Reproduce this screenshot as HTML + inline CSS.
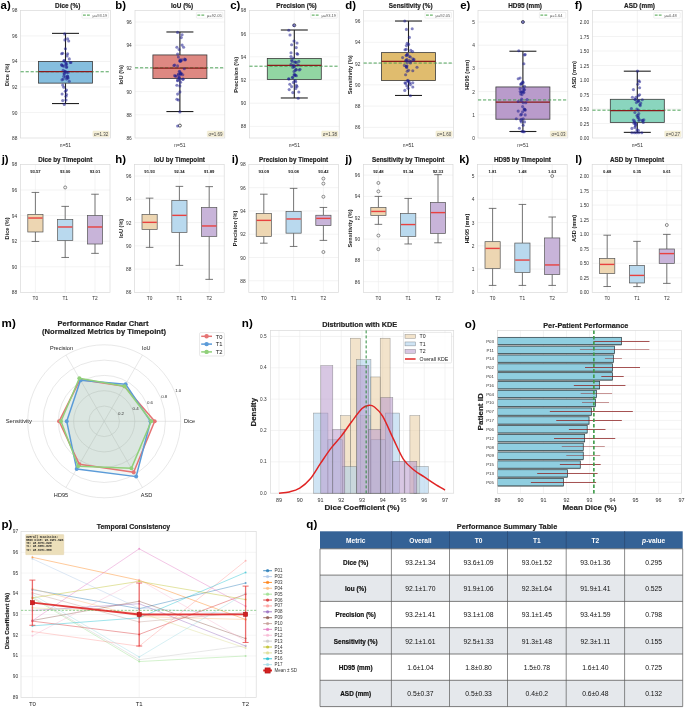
<!DOCTYPE html>
<html><head><meta charset="utf-8"><title>Figure</title>
<style>
html,body{margin:0;padding:0;background:#fff;}
body{width:685px;height:708px;overflow:hidden;}
svg{display:block;font-family:"Liberation Sans", sans-serif;will-change:transform;}
</style></head><body>
<svg width="685" height="708" viewBox="0 0 685 708">
<rect x="0" y="0" width="685" height="708" fill="#fff"/>
<line x1="20.6" y1="112.48" x2="110.4" y2="112.48" stroke="#ebebeb" stroke-width="0.6"/>
<line x1="20.6" y1="86.96" x2="110.4" y2="86.96" stroke="#ebebeb" stroke-width="0.6"/>
<line x1="20.6" y1="61.44" x2="110.4" y2="61.44" stroke="#ebebeb" stroke-width="0.6"/>
<line x1="20.6" y1="35.92" x2="110.4" y2="35.92" stroke="#ebebeb" stroke-width="0.6"/>
<line x1="65.5" y1="10.4" x2="65.5" y2="138" stroke="#ebebeb" stroke-width="0.6"/>
<rect x="20.6" y="10.4" width="89.8" height="127.6" fill="none" stroke="#d9d9d9" stroke-width="0.7"/>
<text x="17.4" y="138.55" font-size="4.8" text-anchor="end" dominant-baseline="central" fill="#333">88</text>
<text x="17.4" y="113.03" font-size="4.8" text-anchor="end" dominant-baseline="central" fill="#333">90</text>
<text x="17.4" y="87.51" font-size="4.8" text-anchor="end" dominant-baseline="central" fill="#333">92</text>
<text x="17.4" y="61.99" font-size="4.8" text-anchor="end" dominant-baseline="central" fill="#333">94</text>
<text x="17.4" y="36.47" font-size="4.8" text-anchor="end" dominant-baseline="central" fill="#333">96</text>
<text x="17.4" y="10.95" font-size="4.8" text-anchor="end" dominant-baseline="central" fill="#333">98</text>
<line x1="65.5" y1="33.37" x2="65.5" y2="61.44" stroke="#222" stroke-width="1.1"/>
<line x1="65.5" y1="83.13" x2="65.5" y2="103.55" stroke="#222" stroke-width="1.1"/>
<rect x="38.5" y="61.44" width="54" height="21.69" fill="#85bede" stroke="#3a3a3a" stroke-width="0.8"/>
<line x1="52" y1="33.37" x2="79" y2="33.37" stroke="#222" stroke-width="1.1"/>
<line x1="52" y1="103.55" x2="79" y2="103.55" stroke="#222" stroke-width="1.1"/>
<line x1="20.6" y1="71.78" x2="110.4" y2="71.78" stroke="#3c9a48" stroke-width="0.9" stroke-dasharray="3.2,1.8"/>
<line x1="38.5" y1="71.65" x2="92.5" y2="71.65" stroke="#8b1a1a" stroke-width="1.3"/>
<circle cx="64.7" cy="33.9" r="1.55" fill="#1f1f8f" stroke="none" stroke-width="0" fill-opacity="0.55"/>
<circle cx="64.9" cy="39.9" r="1.55" fill="#1f1f8f" stroke="none" stroke-width="0" fill-opacity="0.55"/>
<circle cx="67.6" cy="38.8" r="1.55" fill="#1f1f8f" stroke="none" stroke-width="0" fill-opacity="0.55"/>
<circle cx="68.7" cy="41" r="1.55" fill="#1f1f8f" stroke="none" stroke-width="0" fill-opacity="0.55"/>
<circle cx="65.4" cy="48.7" r="1.55" fill="#1f1f8f" stroke="none" stroke-width="0" fill-opacity="0.55"/>
<circle cx="61.6" cy="53.7" r="1.55" fill="#1f1f8f" stroke="none" stroke-width="0" fill-opacity="0.55"/>
<circle cx="62.7" cy="53.2" r="1.55" fill="#1f1f8f" stroke="none" stroke-width="0" fill-opacity="0.55"/>
<circle cx="67.6" cy="53.7" r="1.55" fill="#1f1f8f" stroke="none" stroke-width="0" fill-opacity="0.55"/>
<circle cx="67.1" cy="55.9" r="1.55" fill="#1f1f8f" stroke="none" stroke-width="0" fill-opacity="0.55"/>
<circle cx="69.3" cy="58.9" r="1.55" fill="#1f1f8f" stroke="none" stroke-width="0" fill-opacity="0.55"/>
<circle cx="63.8" cy="60.9" r="1.55" fill="#1f1f8f" stroke="none" stroke-width="0" fill-opacity="0.55"/>
<circle cx="65.4" cy="62" r="1.55" fill="#1f1f8f" stroke="none" stroke-width="0" fill-opacity="0.55"/>
<circle cx="66.3" cy="63.1" r="1.55" fill="#1f1f8f" stroke="none" stroke-width="0" fill-opacity="0.55"/>
<circle cx="70.9" cy="62.5" r="1.55" fill="#1f1f8f" stroke="none" stroke-width="0" fill-opacity="0.55"/>
<circle cx="61.6" cy="65.1" r="1.55" fill="#1f1f8f" stroke="none" stroke-width="0" fill-opacity="0.55"/>
<circle cx="62.7" cy="65.8" r="1.55" fill="#1f1f8f" stroke="none" stroke-width="0" fill-opacity="0.55"/>
<circle cx="66.5" cy="67.5" r="1.55" fill="#1f1f8f" stroke="none" stroke-width="0" fill-opacity="0.55"/>
<circle cx="66" cy="64.2" r="1.55" fill="#1f1f8f" stroke="none" stroke-width="0" fill-opacity="0.55"/>
<circle cx="63.2" cy="70.2" r="1.55" fill="#1f1f8f" stroke="none" stroke-width="0" fill-opacity="0.55"/>
<circle cx="64.9" cy="71.3" r="1.55" fill="#1f1f8f" stroke="none" stroke-width="0" fill-opacity="0.55"/>
<circle cx="66.5" cy="72.4" r="1.55" fill="#1f1f8f" stroke="none" stroke-width="0" fill-opacity="0.55"/>
<circle cx="68.2" cy="72.4" r="1.55" fill="#1f1f8f" stroke="none" stroke-width="0" fill-opacity="0.55"/>
<circle cx="64.3" cy="73.5" r="1.55" fill="#1f1f8f" stroke="none" stroke-width="0" fill-opacity="0.55"/>
<circle cx="63.8" cy="76.3" r="1.55" fill="#1f1f8f" stroke="none" stroke-width="0" fill-opacity="0.55"/>
<circle cx="65.4" cy="76.9" r="1.55" fill="#1f1f8f" stroke="none" stroke-width="0" fill-opacity="0.55"/>
<circle cx="67.6" cy="76.3" r="1.55" fill="#1f1f8f" stroke="none" stroke-width="0" fill-opacity="0.55"/>
<circle cx="68.2" cy="78" r="1.55" fill="#1f1f8f" stroke="none" stroke-width="0" fill-opacity="0.55"/>
<circle cx="63.2" cy="79.1" r="1.55" fill="#1f1f8f" stroke="none" stroke-width="0" fill-opacity="0.55"/>
<circle cx="66.5" cy="79.1" r="1.55" fill="#1f1f8f" stroke="none" stroke-width="0" fill-opacity="0.55"/>
<circle cx="69.3" cy="81.3" r="1.55" fill="#1f1f8f" stroke="none" stroke-width="0" fill-opacity="0.55"/>
<circle cx="62.7" cy="85.1" r="1.55" fill="#1f1f8f" stroke="none" stroke-width="0" fill-opacity="0.55"/>
<circle cx="63.8" cy="87.3" r="1.55" fill="#1f1f8f" stroke="none" stroke-width="0" fill-opacity="0.55"/>
<circle cx="66.5" cy="90.1" r="1.55" fill="#1f1f8f" stroke="none" stroke-width="0" fill-opacity="0.55"/>
<circle cx="65.4" cy="91.2" r="1.55" fill="#1f1f8f" stroke="none" stroke-width="0" fill-opacity="0.55"/>
<circle cx="62.1" cy="94" r="1.55" fill="#1f1f8f" stroke="none" stroke-width="0" fill-opacity="0.55"/>
<circle cx="66.5" cy="94.5" r="1.55" fill="#1f1f8f" stroke="none" stroke-width="0" fill-opacity="0.55"/>
<circle cx="66" cy="96.2" r="1.55" fill="#1f1f8f" stroke="none" stroke-width="0" fill-opacity="0.55"/>
<circle cx="62.7" cy="100.6" r="1.55" fill="#1f1f8f" stroke="none" stroke-width="0" fill-opacity="0.55"/>
<circle cx="66" cy="100" r="1.55" fill="#1f1f8f" stroke="none" stroke-width="0" fill-opacity="0.55"/>
<circle cx="64.3" cy="104.4" r="1.55" fill="#1f1f8f" stroke="none" stroke-width="0" fill-opacity="0.55"/>
<circle cx="66.17" cy="64.8" r="1.55" fill="#1f1f8f" stroke="none" stroke-width="0" fill-opacity="0.55"/>
<circle cx="70.31" cy="62.49" r="1.55" fill="#1f1f8f" stroke="none" stroke-width="0" fill-opacity="0.55"/>
<circle cx="67.53" cy="76.06" r="1.55" fill="#1f1f8f" stroke="none" stroke-width="0" fill-opacity="0.55"/>
<circle cx="61.73" cy="64.86" r="1.55" fill="#1f1f8f" stroke="none" stroke-width="0" fill-opacity="0.55"/>
<circle cx="64.14" cy="74.02" r="1.55" fill="#1f1f8f" stroke="none" stroke-width="0" fill-opacity="0.55"/>
<circle cx="64.27" cy="60.43" r="1.55" fill="#1f1f8f" stroke="none" stroke-width="0" fill-opacity="0.55"/>
<circle cx="66.72" cy="66.7" r="1.55" fill="#1f1f8f" stroke="none" stroke-width="0" fill-opacity="0.55"/>
<circle cx="65.37" cy="71.45" r="1.55" fill="#1f1f8f" stroke="none" stroke-width="0" fill-opacity="0.55"/>
<circle cx="62.02" cy="79.86" r="1.55" fill="#1f1f8f" stroke="none" stroke-width="0" fill-opacity="0.55"/>
<circle cx="63.83" cy="66.25" r="1.55" fill="#1f1f8f" stroke="none" stroke-width="0" fill-opacity="0.55"/>
<circle cx="67.53" cy="77.88" r="1.55" fill="#1f1f8f" stroke="none" stroke-width="0" fill-opacity="0.55"/>
<rect x="82" y="12.3" width="26.4" height="5.9" fill="#fff" stroke="#d8d8d8" stroke-width="0.4" rx="0.8"/>
<line x1="83" y1="15.2" x2="90" y2="15.2" stroke="#6db56d" stroke-width="1.3" stroke-dasharray="2.8,1.2"/>
<text x="92.6" y="15.3" font-size="4" text-anchor="start" dominant-baseline="central" fill="#555">μ=93.19</text>
<rect x="92.9" y="131" width="16.3" height="5.8" fill="#f6f0d8" stroke="#ebe3c6" stroke-width="0.4" rx="0.8"/>
<text x="101.1" y="134.1" font-size="4.5" text-anchor="middle" dominant-baseline="central" fill="#444">σ=1.32</text>
<text x="67.7" y="5" font-size="6.4" text-anchor="middle" dominant-baseline="central" fill="#222" font-weight="bold" stroke="#222" stroke-width="0.18">Dice (%)</text>
<text x="7" y="74.8" font-size="5.7" text-anchor="middle" dominant-baseline="central" fill="#222" font-weight="bold" transform="rotate(-90 7 74.8)">Dice (%)</text>
<text x="65.5" y="144.6" font-size="5" text-anchor="middle" dominant-baseline="central" fill="#333">n=51</text>
<text x="0.6" y="8.9" font-size="11.4" font-weight="bold" fill="#000">a)</text>
<line x1="135" y1="114.8" x2="224.8" y2="114.8" stroke="#ebebeb" stroke-width="0.6"/>
<line x1="135" y1="91.6" x2="224.8" y2="91.6" stroke="#ebebeb" stroke-width="0.6"/>
<line x1="135" y1="68.4" x2="224.8" y2="68.4" stroke="#ebebeb" stroke-width="0.6"/>
<line x1="135" y1="45.2" x2="224.8" y2="45.2" stroke="#ebebeb" stroke-width="0.6"/>
<line x1="135" y1="22" x2="224.8" y2="22" stroke="#ebebeb" stroke-width="0.6"/>
<line x1="179.9" y1="10.4" x2="179.9" y2="138" stroke="#ebebeb" stroke-width="0.6"/>
<rect x="135" y="10.4" width="89.8" height="127.6" fill="none" stroke="#d9d9d9" stroke-width="0.7"/>
<text x="131.8" y="138.55" font-size="4.8" text-anchor="end" dominant-baseline="central" fill="#333">86</text>
<text x="131.8" y="115.35" font-size="4.8" text-anchor="end" dominant-baseline="central" fill="#333">88</text>
<text x="131.8" y="92.15" font-size="4.8" text-anchor="end" dominant-baseline="central" fill="#333">90</text>
<text x="131.8" y="68.95" font-size="4.8" text-anchor="end" dominant-baseline="central" fill="#333">92</text>
<text x="131.8" y="45.75" font-size="4.8" text-anchor="end" dominant-baseline="central" fill="#333">94</text>
<text x="131.8" y="22.55" font-size="4.8" text-anchor="end" dominant-baseline="central" fill="#333">96</text>
<line x1="179.9" y1="31.98" x2="179.9" y2="54.94" stroke="#222" stroke-width="1.1"/>
<line x1="179.9" y1="78.61" x2="179.9" y2="111.55" stroke="#222" stroke-width="1.1"/>
<rect x="152.9" y="54.94" width="54" height="23.66" fill="#de8882" stroke="#3a3a3a" stroke-width="0.8"/>
<line x1="166.4" y1="31.98" x2="193.4" y2="31.98" stroke="#222" stroke-width="1.1"/>
<line x1="166.4" y1="111.55" x2="193.4" y2="111.55" stroke="#222" stroke-width="1.1"/>
<line x1="135" y1="67.82" x2="224.8" y2="67.82" stroke="#3c9a48" stroke-width="0.9" stroke-dasharray="3.2,1.8"/>
<line x1="152.9" y1="68.17" x2="206.9" y2="68.17" stroke="#8b1a1a" stroke-width="1.3"/>
<circle cx="179.9" cy="125.59" r="1.5" fill="none" stroke="#222" stroke-width="0.7"/>
<circle cx="177.6" cy="32.4" r="1.55" fill="#1f1f8f" stroke="none" stroke-width="0" fill-opacity="0.55"/>
<circle cx="182.1" cy="34.7" r="1.55" fill="#1f1f8f" stroke="none" stroke-width="0" fill-opacity="0.55"/>
<circle cx="181.3" cy="37.6" r="1.55" fill="#1f1f8f" stroke="none" stroke-width="0" fill-opacity="0.55"/>
<circle cx="176.9" cy="47.3" r="1.55" fill="#1f1f8f" stroke="none" stroke-width="0" fill-opacity="0.55"/>
<circle cx="182.1" cy="45.1" r="1.55" fill="#1f1f8f" stroke="none" stroke-width="0" fill-opacity="0.55"/>
<circle cx="183.6" cy="47.3" r="1.55" fill="#1f1f8f" stroke="none" stroke-width="0" fill-opacity="0.55"/>
<circle cx="179.1" cy="49.5" r="1.55" fill="#1f1f8f" stroke="none" stroke-width="0" fill-opacity="0.55"/>
<circle cx="177.6" cy="54" r="1.55" fill="#1f1f8f" stroke="none" stroke-width="0" fill-opacity="0.55"/>
<circle cx="178.4" cy="57" r="1.55" fill="#1f1f8f" stroke="none" stroke-width="0" fill-opacity="0.55"/>
<circle cx="179.9" cy="60.7" r="1.55" fill="#1f1f8f" stroke="none" stroke-width="0" fill-opacity="0.55"/>
<circle cx="182.1" cy="59.9" r="1.55" fill="#1f1f8f" stroke="none" stroke-width="0" fill-opacity="0.55"/>
<circle cx="185.1" cy="59.9" r="1.55" fill="#1f1f8f" stroke="none" stroke-width="0" fill-opacity="0.55"/>
<circle cx="174.7" cy="65.1" r="1.55" fill="#1f1f8f" stroke="none" stroke-width="0" fill-opacity="0.55"/>
<circle cx="177.6" cy="65.9" r="1.55" fill="#1f1f8f" stroke="none" stroke-width="0" fill-opacity="0.55"/>
<circle cx="184.3" cy="68.8" r="1.55" fill="#1f1f8f" stroke="none" stroke-width="0" fill-opacity="0.55"/>
<circle cx="179.9" cy="71.8" r="1.55" fill="#1f1f8f" stroke="none" stroke-width="0" fill-opacity="0.55"/>
<circle cx="181.3" cy="73.3" r="1.55" fill="#1f1f8f" stroke="none" stroke-width="0" fill-opacity="0.55"/>
<circle cx="178.4" cy="74.8" r="1.55" fill="#1f1f8f" stroke="none" stroke-width="0" fill-opacity="0.55"/>
<circle cx="182.8" cy="74.8" r="1.55" fill="#1f1f8f" stroke="none" stroke-width="0" fill-opacity="0.55"/>
<circle cx="175.4" cy="76.3" r="1.55" fill="#1f1f8f" stroke="none" stroke-width="0" fill-opacity="0.55"/>
<circle cx="179.1" cy="77" r="1.55" fill="#1f1f8f" stroke="none" stroke-width="0" fill-opacity="0.55"/>
<circle cx="179.9" cy="79.2" r="1.55" fill="#1f1f8f" stroke="none" stroke-width="0" fill-opacity="0.55"/>
<circle cx="182.8" cy="79.2" r="1.55" fill="#1f1f8f" stroke="none" stroke-width="0" fill-opacity="0.55"/>
<circle cx="177.6" cy="80.7" r="1.55" fill="#1f1f8f" stroke="none" stroke-width="0" fill-opacity="0.55"/>
<circle cx="180.6" cy="82.2" r="1.55" fill="#1f1f8f" stroke="none" stroke-width="0" fill-opacity="0.55"/>
<circle cx="176.9" cy="85.2" r="1.55" fill="#1f1f8f" stroke="none" stroke-width="0" fill-opacity="0.55"/>
<circle cx="179.9" cy="85.9" r="1.55" fill="#1f1f8f" stroke="none" stroke-width="0" fill-opacity="0.55"/>
<circle cx="179.9" cy="91.9" r="1.55" fill="#1f1f8f" stroke="none" stroke-width="0" fill-opacity="0.55"/>
<circle cx="177.6" cy="94.1" r="1.55" fill="#1f1f8f" stroke="none" stroke-width="0" fill-opacity="0.55"/>
<circle cx="176.9" cy="99.3" r="1.55" fill="#1f1f8f" stroke="none" stroke-width="0" fill-opacity="0.55"/>
<circle cx="178.4" cy="100" r="1.55" fill="#1f1f8f" stroke="none" stroke-width="0" fill-opacity="0.55"/>
<circle cx="179.9" cy="111.9" r="1.55" fill="#1f1f8f" stroke="none" stroke-width="0" fill-opacity="0.55"/>
<circle cx="177.6" cy="126" r="1.55" fill="#1f1f8f" stroke="none" stroke-width="0" fill-opacity="0.55"/>
<circle cx="180.18" cy="61.21" r="1.55" fill="#1f1f8f" stroke="none" stroke-width="0" fill-opacity="0.55"/>
<circle cx="179.35" cy="71.31" r="1.55" fill="#1f1f8f" stroke="none" stroke-width="0" fill-opacity="0.55"/>
<circle cx="185.48" cy="59.51" r="1.55" fill="#1f1f8f" stroke="none" stroke-width="0" fill-opacity="0.55"/>
<circle cx="178.85" cy="77.82" r="1.55" fill="#1f1f8f" stroke="none" stroke-width="0" fill-opacity="0.55"/>
<circle cx="180.64" cy="74.1" r="1.55" fill="#1f1f8f" stroke="none" stroke-width="0" fill-opacity="0.55"/>
<circle cx="176.14" cy="76.02" r="1.55" fill="#1f1f8f" stroke="none" stroke-width="0" fill-opacity="0.55"/>
<circle cx="173.89" cy="65.43" r="1.55" fill="#1f1f8f" stroke="none" stroke-width="0" fill-opacity="0.55"/>
<circle cx="180.5" cy="73.6" r="1.55" fill="#1f1f8f" stroke="none" stroke-width="0" fill-opacity="0.55"/>
<circle cx="180.13" cy="59.76" r="1.55" fill="#1f1f8f" stroke="none" stroke-width="0" fill-opacity="0.55"/>
<circle cx="180.59" cy="74.26" r="1.55" fill="#1f1f8f" stroke="none" stroke-width="0" fill-opacity="0.55"/>
<circle cx="179.3" cy="77.87" r="1.55" fill="#1f1f8f" stroke="none" stroke-width="0" fill-opacity="0.55"/>
<circle cx="180.79" cy="61.07" r="1.55" fill="#1f1f8f" stroke="none" stroke-width="0" fill-opacity="0.55"/>
<circle cx="180.09" cy="60.97" r="1.55" fill="#1f1f8f" stroke="none" stroke-width="0" fill-opacity="0.55"/>
<circle cx="174.63" cy="75.49" r="1.55" fill="#1f1f8f" stroke="none" stroke-width="0" fill-opacity="0.55"/>
<circle cx="177.63" cy="80.09" r="1.55" fill="#1f1f8f" stroke="none" stroke-width="0" fill-opacity="0.55"/>
<circle cx="183.1" cy="79.17" r="1.55" fill="#1f1f8f" stroke="none" stroke-width="0" fill-opacity="0.55"/>
<circle cx="178.4" cy="74" r="1.55" fill="#1f1f8f" stroke="none" stroke-width="0" fill-opacity="0.55"/>
<circle cx="184.57" cy="59.14" r="1.55" fill="#1f1f8f" stroke="none" stroke-width="0" fill-opacity="0.55"/>
<rect x="196.4" y="12.3" width="26.4" height="5.9" fill="#fff" stroke="#d8d8d8" stroke-width="0.4" rx="0.8"/>
<line x1="197.4" y1="15.2" x2="204.4" y2="15.2" stroke="#6db56d" stroke-width="1.3" stroke-dasharray="2.8,1.2"/>
<text x="207" y="15.3" font-size="4" text-anchor="start" dominant-baseline="central" fill="#555">μ=92.05</text>
<rect x="207.3" y="131" width="16.3" height="5.8" fill="#f6f0d8" stroke="#ebe3c6" stroke-width="0.4" rx="0.8"/>
<text x="215.5" y="134.1" font-size="4.5" text-anchor="middle" dominant-baseline="central" fill="#444">σ=1.69</text>
<text x="182.1" y="5" font-size="6.4" text-anchor="middle" dominant-baseline="central" fill="#222" font-weight="bold" stroke="#222" stroke-width="0.18">IoU (%)</text>
<text x="121.4" y="74.8" font-size="5.7" text-anchor="middle" dominant-baseline="central" fill="#222" font-weight="bold" transform="rotate(-90 121.4 74.8)">IoU (%)</text>
<text x="179.9" y="144.6" font-size="5" text-anchor="middle" dominant-baseline="central" fill="#333">n=51</text>
<text x="115.2" y="8.9" font-size="11.4" font-weight="bold" fill="#000">b)</text>
<line x1="249.4" y1="126.4" x2="339.2" y2="126.4" stroke="#ebebeb" stroke-width="0.6"/>
<line x1="249.4" y1="103.2" x2="339.2" y2="103.2" stroke="#ebebeb" stroke-width="0.6"/>
<line x1="249.4" y1="80" x2="339.2" y2="80" stroke="#ebebeb" stroke-width="0.6"/>
<line x1="249.4" y1="56.8" x2="339.2" y2="56.8" stroke="#ebebeb" stroke-width="0.6"/>
<line x1="249.4" y1="33.6" x2="339.2" y2="33.6" stroke="#ebebeb" stroke-width="0.6"/>
<line x1="294.3" y1="10.4" x2="294.3" y2="138" stroke="#ebebeb" stroke-width="0.6"/>
<rect x="249.4" y="10.4" width="89.8" height="127.6" fill="none" stroke="#d9d9d9" stroke-width="0.7"/>
<text x="246.2" y="126.95" font-size="4.8" text-anchor="end" dominant-baseline="central" fill="#333">88</text>
<text x="246.2" y="103.75" font-size="4.8" text-anchor="end" dominant-baseline="central" fill="#333">90</text>
<text x="246.2" y="80.55" font-size="4.8" text-anchor="end" dominant-baseline="central" fill="#333">92</text>
<text x="246.2" y="57.35" font-size="4.8" text-anchor="end" dominant-baseline="central" fill="#333">94</text>
<text x="246.2" y="34.15" font-size="4.8" text-anchor="end" dominant-baseline="central" fill="#333">96</text>
<text x="246.2" y="10.95" font-size="4.8" text-anchor="end" dominant-baseline="central" fill="#333">98</text>
<line x1="294.3" y1="30" x2="294.3" y2="58.42" stroke="#222" stroke-width="1.1"/>
<line x1="294.3" y1="79.42" x2="294.3" y2="97.98" stroke="#222" stroke-width="1.1"/>
<rect x="267.3" y="58.42" width="54" height="21" fill="#92d5a3" stroke="#3a3a3a" stroke-width="0.8"/>
<line x1="280.8" y1="30" x2="307.8" y2="30" stroke="#222" stroke-width="1.1"/>
<line x1="280.8" y1="97.98" x2="307.8" y2="97.98" stroke="#222" stroke-width="1.1"/>
<line x1="249.4" y1="66.2" x2="339.2" y2="66.2" stroke="#3c9a48" stroke-width="0.9" stroke-dasharray="3.2,1.8"/>
<line x1="267.3" y1="65.38" x2="321.3" y2="65.38" stroke="#8b1a1a" stroke-width="1.3"/>
<circle cx="294.3" cy="25.25" r="1.5" fill="none" stroke="#222" stroke-width="0.7"/>
<circle cx="294" cy="25.4" r="1.55" fill="#1f1f8f" stroke="none" stroke-width="0" fill-opacity="0.55"/>
<circle cx="288.8" cy="30.2" r="1.55" fill="#1f1f8f" stroke="none" stroke-width="0" fill-opacity="0.55"/>
<circle cx="290" cy="35" r="1.55" fill="#1f1f8f" stroke="none" stroke-width="0" fill-opacity="0.55"/>
<circle cx="294" cy="41" r="1.55" fill="#1f1f8f" stroke="none" stroke-width="0" fill-opacity="0.55"/>
<circle cx="297" cy="43" r="1.55" fill="#1f1f8f" stroke="none" stroke-width="0" fill-opacity="0.55"/>
<circle cx="291.6" cy="44.8" r="1.55" fill="#1f1f8f" stroke="none" stroke-width="0" fill-opacity="0.55"/>
<circle cx="296.2" cy="47.6" r="1.55" fill="#1f1f8f" stroke="none" stroke-width="0" fill-opacity="0.55"/>
<circle cx="291" cy="52.7" r="1.55" fill="#1f1f8f" stroke="none" stroke-width="0" fill-opacity="0.55"/>
<circle cx="297" cy="53.6" r="1.55" fill="#1f1f8f" stroke="none" stroke-width="0" fill-opacity="0.55"/>
<circle cx="297.6" cy="54.2" r="1.55" fill="#1f1f8f" stroke="none" stroke-width="0" fill-opacity="0.55"/>
<circle cx="291" cy="56.6" r="1.55" fill="#1f1f8f" stroke="none" stroke-width="0" fill-opacity="0.55"/>
<circle cx="293.4" cy="58.2" r="1.55" fill="#1f1f8f" stroke="none" stroke-width="0" fill-opacity="0.55"/>
<circle cx="291.6" cy="60.2" r="1.55" fill="#1f1f8f" stroke="none" stroke-width="0" fill-opacity="0.55"/>
<circle cx="292.2" cy="61.4" r="1.55" fill="#1f1f8f" stroke="none" stroke-width="0" fill-opacity="0.55"/>
<circle cx="294.6" cy="62" r="1.55" fill="#1f1f8f" stroke="none" stroke-width="0" fill-opacity="0.55"/>
<circle cx="296.4" cy="62.6" r="1.55" fill="#1f1f8f" stroke="none" stroke-width="0" fill-opacity="0.55"/>
<circle cx="298.8" cy="61.4" r="1.55" fill="#1f1f8f" stroke="none" stroke-width="0" fill-opacity="0.55"/>
<circle cx="291" cy="64.4" r="1.55" fill="#1f1f8f" stroke="none" stroke-width="0" fill-opacity="0.55"/>
<circle cx="293.4" cy="65" r="1.55" fill="#1f1f8f" stroke="none" stroke-width="0" fill-opacity="0.55"/>
<circle cx="298.2" cy="65" r="1.55" fill="#1f1f8f" stroke="none" stroke-width="0" fill-opacity="0.55"/>
<circle cx="294" cy="66.8" r="1.55" fill="#1f1f8f" stroke="none" stroke-width="0" fill-opacity="0.55"/>
<circle cx="292.8" cy="67.4" r="1.55" fill="#1f1f8f" stroke="none" stroke-width="0" fill-opacity="0.55"/>
<circle cx="300" cy="69.2" r="1.55" fill="#1f1f8f" stroke="none" stroke-width="0" fill-opacity="0.55"/>
<circle cx="295.8" cy="69.2" r="1.55" fill="#1f1f8f" stroke="none" stroke-width="0" fill-opacity="0.55"/>
<circle cx="294" cy="71.6" r="1.55" fill="#1f1f8f" stroke="none" stroke-width="0" fill-opacity="0.55"/>
<circle cx="294.6" cy="74.6" r="1.55" fill="#1f1f8f" stroke="none" stroke-width="0" fill-opacity="0.55"/>
<circle cx="296.4" cy="75.8" r="1.55" fill="#1f1f8f" stroke="none" stroke-width="0" fill-opacity="0.55"/>
<circle cx="292.8" cy="77.6" r="1.55" fill="#1f1f8f" stroke="none" stroke-width="0" fill-opacity="0.55"/>
<circle cx="288.6" cy="78.8" r="1.55" fill="#1f1f8f" stroke="none" stroke-width="0" fill-opacity="0.55"/>
<circle cx="295.2" cy="80.6" r="1.55" fill="#1f1f8f" stroke="none" stroke-width="0" fill-opacity="0.55"/>
<circle cx="295.8" cy="81.8" r="1.55" fill="#1f1f8f" stroke="none" stroke-width="0" fill-opacity="0.55"/>
<circle cx="293.4" cy="82.4" r="1.55" fill="#1f1f8f" stroke="none" stroke-width="0" fill-opacity="0.55"/>
<circle cx="289.8" cy="84.2" r="1.55" fill="#1f1f8f" stroke="none" stroke-width="0" fill-opacity="0.55"/>
<circle cx="291.6" cy="86.6" r="1.55" fill="#1f1f8f" stroke="none" stroke-width="0" fill-opacity="0.55"/>
<circle cx="296.4" cy="85.4" r="1.55" fill="#1f1f8f" stroke="none" stroke-width="0" fill-opacity="0.55"/>
<circle cx="297" cy="86.6" r="1.55" fill="#1f1f8f" stroke="none" stroke-width="0" fill-opacity="0.55"/>
<circle cx="295.8" cy="88.4" r="1.55" fill="#1f1f8f" stroke="none" stroke-width="0" fill-opacity="0.55"/>
<circle cx="289.2" cy="89.6" r="1.55" fill="#1f1f8f" stroke="none" stroke-width="0" fill-opacity="0.55"/>
<circle cx="292.8" cy="92.6" r="1.55" fill="#1f1f8f" stroke="none" stroke-width="0" fill-opacity="0.55"/>
<circle cx="298.8" cy="92" r="1.55" fill="#1f1f8f" stroke="none" stroke-width="0" fill-opacity="0.55"/>
<circle cx="298.2" cy="98.3" r="1.55" fill="#1f1f8f" stroke="none" stroke-width="0" fill-opacity="0.55"/>
<circle cx="295.08" cy="75.51" r="1.55" fill="#1f1f8f" stroke="none" stroke-width="0" fill-opacity="0.55"/>
<circle cx="295.38" cy="62.11" r="1.55" fill="#1f1f8f" stroke="none" stroke-width="0" fill-opacity="0.55"/>
<circle cx="292.4" cy="77.34" r="1.55" fill="#1f1f8f" stroke="none" stroke-width="0" fill-opacity="0.55"/>
<circle cx="299.24" cy="70.02" r="1.55" fill="#1f1f8f" stroke="none" stroke-width="0" fill-opacity="0.55"/>
<circle cx="295.37" cy="75.06" r="1.55" fill="#1f1f8f" stroke="none" stroke-width="0" fill-opacity="0.55"/>
<circle cx="288.97" cy="79.02" r="1.55" fill="#1f1f8f" stroke="none" stroke-width="0" fill-opacity="0.55"/>
<circle cx="296.46" cy="69.68" r="1.55" fill="#1f1f8f" stroke="none" stroke-width="0" fill-opacity="0.55"/>
<circle cx="295.18" cy="70.62" r="1.55" fill="#1f1f8f" stroke="none" stroke-width="0" fill-opacity="0.55"/>
<circle cx="294.01" cy="74.82" r="1.55" fill="#1f1f8f" stroke="none" stroke-width="0" fill-opacity="0.55"/>
<circle cx="294.26" cy="66.25" r="1.55" fill="#1f1f8f" stroke="none" stroke-width="0" fill-opacity="0.55"/>
<rect x="310.8" y="12.3" width="26.4" height="5.9" fill="#fff" stroke="#d8d8d8" stroke-width="0.4" rx="0.8"/>
<line x1="311.8" y1="15.2" x2="318.8" y2="15.2" stroke="#6db56d" stroke-width="1.3" stroke-dasharray="2.8,1.2"/>
<text x="321.4" y="15.3" font-size="4" text-anchor="start" dominant-baseline="central" fill="#555">μ=93.19</text>
<rect x="321.7" y="131" width="16.3" height="5.8" fill="#f6f0d8" stroke="#ebe3c6" stroke-width="0.4" rx="0.8"/>
<text x="329.9" y="134.1" font-size="4.5" text-anchor="middle" dominant-baseline="central" fill="#444">σ=1.38</text>
<text x="296.5" y="5" font-size="6.4" text-anchor="middle" dominant-baseline="central" fill="#222" font-weight="bold" stroke="#222" stroke-width="0.18">Precision (%)</text>
<text x="235.8" y="74.8" font-size="5.7" text-anchor="middle" dominant-baseline="central" fill="#222" font-weight="bold" transform="rotate(-90 235.8 74.8)">Precision (%)</text>
<text x="294.3" y="144.6" font-size="5" text-anchor="middle" dominant-baseline="central" fill="#333">n=51</text>
<text x="230.2" y="8.9" font-size="11.4" font-weight="bold" fill="#000">c)</text>
<line x1="363.6" y1="127.37" x2="453.4" y2="127.37" stroke="#ebebeb" stroke-width="0.6"/>
<line x1="363.6" y1="106.1" x2="453.4" y2="106.1" stroke="#ebebeb" stroke-width="0.6"/>
<line x1="363.6" y1="84.83" x2="453.4" y2="84.83" stroke="#ebebeb" stroke-width="0.6"/>
<line x1="363.6" y1="63.57" x2="453.4" y2="63.57" stroke="#ebebeb" stroke-width="0.6"/>
<line x1="363.6" y1="42.3" x2="453.4" y2="42.3" stroke="#ebebeb" stroke-width="0.6"/>
<line x1="363.6" y1="21.03" x2="453.4" y2="21.03" stroke="#ebebeb" stroke-width="0.6"/>
<line x1="408.5" y1="10.4" x2="408.5" y2="138" stroke="#ebebeb" stroke-width="0.6"/>
<rect x="363.6" y="10.4" width="89.8" height="127.6" fill="none" stroke="#d9d9d9" stroke-width="0.7"/>
<text x="360.4" y="127.92" font-size="4.8" text-anchor="end" dominant-baseline="central" fill="#333">86</text>
<text x="360.4" y="106.65" font-size="4.8" text-anchor="end" dominant-baseline="central" fill="#333">88</text>
<text x="360.4" y="85.38" font-size="4.8" text-anchor="end" dominant-baseline="central" fill="#333">90</text>
<text x="360.4" y="64.12" font-size="4.8" text-anchor="end" dominant-baseline="central" fill="#333">92</text>
<text x="360.4" y="42.85" font-size="4.8" text-anchor="end" dominant-baseline="central" fill="#333">94</text>
<text x="360.4" y="21.58" font-size="4.8" text-anchor="end" dominant-baseline="central" fill="#333">96</text>
<line x1="408.5" y1="21.03" x2="408.5" y2="52.61" stroke="#222" stroke-width="1.1"/>
<line x1="408.5" y1="80.58" x2="408.5" y2="95.47" stroke="#222" stroke-width="1.1"/>
<rect x="381.5" y="52.61" width="54" height="27.97" fill="#e0bc6e" stroke="#3a3a3a" stroke-width="0.8"/>
<line x1="395" y1="21.03" x2="422" y2="21.03" stroke="#222" stroke-width="1.1"/>
<line x1="395" y1="95.47" x2="422" y2="95.47" stroke="#222" stroke-width="1.1"/>
<line x1="363.6" y1="63.04" x2="453.4" y2="63.04" stroke="#3c9a48" stroke-width="0.9" stroke-dasharray="3.2,1.8"/>
<line x1="381.5" y1="61.44" x2="435.5" y2="61.44" stroke="#8b1a1a" stroke-width="1.3"/>
<circle cx="404.8" cy="21" r="1.55" fill="#1f1f8f" stroke="none" stroke-width="0" fill-opacity="0.55"/>
<circle cx="406.4" cy="29.4" r="1.55" fill="#1f1f8f" stroke="none" stroke-width="0" fill-opacity="0.55"/>
<circle cx="412.2" cy="28.8" r="1.55" fill="#1f1f8f" stroke="none" stroke-width="0" fill-opacity="0.55"/>
<circle cx="409.4" cy="37.4" r="1.55" fill="#1f1f8f" stroke="none" stroke-width="0" fill-opacity="0.55"/>
<circle cx="407.2" cy="43.2" r="1.55" fill="#1f1f8f" stroke="none" stroke-width="0" fill-opacity="0.55"/>
<circle cx="408.6" cy="44.4" r="1.55" fill="#1f1f8f" stroke="none" stroke-width="0" fill-opacity="0.55"/>
<circle cx="406.4" cy="45.6" r="1.55" fill="#1f1f8f" stroke="none" stroke-width="0" fill-opacity="0.55"/>
<circle cx="405" cy="49.8" r="1.55" fill="#1f1f8f" stroke="none" stroke-width="0" fill-opacity="0.55"/>
<circle cx="406.2" cy="49.2" r="1.55" fill="#1f1f8f" stroke="none" stroke-width="0" fill-opacity="0.55"/>
<circle cx="410.8" cy="50.4" r="1.55" fill="#1f1f8f" stroke="none" stroke-width="0" fill-opacity="0.55"/>
<circle cx="412.6" cy="51.6" r="1.55" fill="#1f1f8f" stroke="none" stroke-width="0" fill-opacity="0.55"/>
<circle cx="407.4" cy="54" r="1.55" fill="#1f1f8f" stroke="none" stroke-width="0" fill-opacity="0.55"/>
<circle cx="406.2" cy="55.2" r="1.55" fill="#1f1f8f" stroke="none" stroke-width="0" fill-opacity="0.55"/>
<circle cx="402.6" cy="57.6" r="1.55" fill="#1f1f8f" stroke="none" stroke-width="0" fill-opacity="0.55"/>
<circle cx="409.2" cy="56.4" r="1.55" fill="#1f1f8f" stroke="none" stroke-width="0" fill-opacity="0.55"/>
<circle cx="410.4" cy="57" r="1.55" fill="#1f1f8f" stroke="none" stroke-width="0" fill-opacity="0.55"/>
<circle cx="406.8" cy="59.4" r="1.55" fill="#1f1f8f" stroke="none" stroke-width="0" fill-opacity="0.55"/>
<circle cx="412.8" cy="58.8" r="1.55" fill="#1f1f8f" stroke="none" stroke-width="0" fill-opacity="0.55"/>
<circle cx="414" cy="59.4" r="1.55" fill="#1f1f8f" stroke="none" stroke-width="0" fill-opacity="0.55"/>
<circle cx="405.6" cy="60.6" r="1.55" fill="#1f1f8f" stroke="none" stroke-width="0" fill-opacity="0.55"/>
<circle cx="409.2" cy="60.6" r="1.55" fill="#1f1f8f" stroke="none" stroke-width="0" fill-opacity="0.55"/>
<circle cx="411" cy="61.2" r="1.55" fill="#1f1f8f" stroke="none" stroke-width="0" fill-opacity="0.55"/>
<circle cx="407.4" cy="62.4" r="1.55" fill="#1f1f8f" stroke="none" stroke-width="0" fill-opacity="0.55"/>
<circle cx="410.4" cy="63" r="1.55" fill="#1f1f8f" stroke="none" stroke-width="0" fill-opacity="0.55"/>
<circle cx="404.4" cy="65.4" r="1.55" fill="#1f1f8f" stroke="none" stroke-width="0" fill-opacity="0.55"/>
<circle cx="406.2" cy="66.6" r="1.55" fill="#1f1f8f" stroke="none" stroke-width="0" fill-opacity="0.55"/>
<circle cx="417" cy="67.2" r="1.55" fill="#1f1f8f" stroke="none" stroke-width="0" fill-opacity="0.55"/>
<circle cx="406.8" cy="67.8" r="1.55" fill="#1f1f8f" stroke="none" stroke-width="0" fill-opacity="0.55"/>
<circle cx="408.6" cy="70.2" r="1.55" fill="#1f1f8f" stroke="none" stroke-width="0" fill-opacity="0.55"/>
<circle cx="407.2" cy="71.2" r="1.55" fill="#1f1f8f" stroke="none" stroke-width="0" fill-opacity="0.55"/>
<circle cx="412.8" cy="70.8" r="1.55" fill="#1f1f8f" stroke="none" stroke-width="0" fill-opacity="0.55"/>
<circle cx="405.6" cy="74.7" r="1.55" fill="#1f1f8f" stroke="none" stroke-width="0" fill-opacity="0.55"/>
<circle cx="408" cy="80.4" r="1.55" fill="#1f1f8f" stroke="none" stroke-width="0" fill-opacity="0.55"/>
<circle cx="408.6" cy="81.6" r="1.55" fill="#1f1f8f" stroke="none" stroke-width="0" fill-opacity="0.55"/>
<circle cx="405" cy="82.8" r="1.55" fill="#1f1f8f" stroke="none" stroke-width="0" fill-opacity="0.55"/>
<circle cx="405.6" cy="83.4" r="1.55" fill="#1f1f8f" stroke="none" stroke-width="0" fill-opacity="0.55"/>
<circle cx="409.8" cy="82.8" r="1.55" fill="#1f1f8f" stroke="none" stroke-width="0" fill-opacity="0.55"/>
<circle cx="412.8" cy="82.8" r="1.55" fill="#1f1f8f" stroke="none" stroke-width="0" fill-opacity="0.55"/>
<circle cx="410.4" cy="84.6" r="1.55" fill="#1f1f8f" stroke="none" stroke-width="0" fill-opacity="0.55"/>
<circle cx="406.8" cy="85.8" r="1.55" fill="#1f1f8f" stroke="none" stroke-width="0" fill-opacity="0.55"/>
<circle cx="412.8" cy="87" r="1.55" fill="#1f1f8f" stroke="none" stroke-width="0" fill-opacity="0.55"/>
<circle cx="408" cy="88.2" r="1.55" fill="#1f1f8f" stroke="none" stroke-width="0" fill-opacity="0.55"/>
<circle cx="404.8" cy="90.4" r="1.55" fill="#1f1f8f" stroke="none" stroke-width="0" fill-opacity="0.55"/>
<circle cx="410.4" cy="95.7" r="1.55" fill="#1f1f8f" stroke="none" stroke-width="0" fill-opacity="0.55"/>
<circle cx="406.39" cy="66.65" r="1.55" fill="#1f1f8f" stroke="none" stroke-width="0" fill-opacity="0.55"/>
<circle cx="413.48" cy="60.32" r="1.55" fill="#1f1f8f" stroke="none" stroke-width="0" fill-opacity="0.55"/>
<circle cx="407.3" cy="80.92" r="1.55" fill="#1f1f8f" stroke="none" stroke-width="0" fill-opacity="0.55"/>
<circle cx="406.51" cy="60.48" r="1.55" fill="#1f1f8f" stroke="none" stroke-width="0" fill-opacity="0.55"/>
<circle cx="407.47" cy="54.47" r="1.55" fill="#1f1f8f" stroke="none" stroke-width="0" fill-opacity="0.55"/>
<circle cx="406.54" cy="55.44" r="1.55" fill="#1f1f8f" stroke="none" stroke-width="0" fill-opacity="0.55"/>
<circle cx="407.04" cy="65.71" r="1.55" fill="#1f1f8f" stroke="none" stroke-width="0" fill-opacity="0.55"/>
<rect x="425" y="12.3" width="26.4" height="5.9" fill="#fff" stroke="#d8d8d8" stroke-width="0.4" rx="0.8"/>
<line x1="426" y1="15.2" x2="433" y2="15.2" stroke="#6db56d" stroke-width="1.3" stroke-dasharray="2.8,1.2"/>
<text x="435.6" y="15.3" font-size="4" text-anchor="start" dominant-baseline="central" fill="#555">μ=92.05</text>
<rect x="435.9" y="131" width="16.3" height="5.8" fill="#f6f0d8" stroke="#ebe3c6" stroke-width="0.4" rx="0.8"/>
<text x="444.1" y="134.1" font-size="4.5" text-anchor="middle" dominant-baseline="central" fill="#444">σ=1.60</text>
<text x="410.7" y="5" font-size="6.4" text-anchor="middle" dominant-baseline="central" fill="#222" font-weight="bold" stroke="#222" stroke-width="0.18">Sensitivity (%)</text>
<text x="349.8" y="74.8" font-size="5.7" text-anchor="middle" dominant-baseline="central" fill="#222" font-weight="bold" transform="rotate(-90 349.8 74.8)">Sensitivity (%)</text>
<text x="408.5" y="144.6" font-size="5" text-anchor="middle" dominant-baseline="central" fill="#333">n=51</text>
<text x="345.2" y="8.9" font-size="11.4" font-weight="bold" fill="#000">d)</text>
<line x1="478" y1="114.8" x2="567.8" y2="114.8" stroke="#ebebeb" stroke-width="0.6"/>
<line x1="478" y1="91.6" x2="567.8" y2="91.6" stroke="#ebebeb" stroke-width="0.6"/>
<line x1="478" y1="68.4" x2="567.8" y2="68.4" stroke="#ebebeb" stroke-width="0.6"/>
<line x1="478" y1="45.2" x2="567.8" y2="45.2" stroke="#ebebeb" stroke-width="0.6"/>
<line x1="478" y1="22" x2="567.8" y2="22" stroke="#ebebeb" stroke-width="0.6"/>
<line x1="522.9" y1="10.4" x2="522.9" y2="138" stroke="#ebebeb" stroke-width="0.6"/>
<rect x="478" y="10.4" width="89.8" height="127.6" fill="none" stroke="#d9d9d9" stroke-width="0.7"/>
<text x="474.8" y="138.55" font-size="4.8" text-anchor="end" dominant-baseline="central" fill="#333">0</text>
<text x="474.8" y="115.35" font-size="4.8" text-anchor="end" dominant-baseline="central" fill="#333">1</text>
<text x="474.8" y="92.15" font-size="4.8" text-anchor="end" dominant-baseline="central" fill="#333">2</text>
<text x="474.8" y="68.95" font-size="4.8" text-anchor="end" dominant-baseline="central" fill="#333">3</text>
<text x="474.8" y="45.75" font-size="4.8" text-anchor="end" dominant-baseline="central" fill="#333">4</text>
<text x="474.8" y="22.55" font-size="4.8" text-anchor="end" dominant-baseline="central" fill="#333">5</text>
<line x1="522.9" y1="51.23" x2="522.9" y2="86.96" stroke="#222" stroke-width="1.1"/>
<line x1="522.9" y1="119.21" x2="522.9" y2="131.5" stroke="#222" stroke-width="1.1"/>
<rect x="495.9" y="86.96" width="54" height="32.25" fill="#b99bcb" stroke="#3a3a3a" stroke-width="0.8"/>
<line x1="509.4" y1="51.23" x2="536.4" y2="51.23" stroke="#222" stroke-width="1.1"/>
<line x1="509.4" y1="131.5" x2="536.4" y2="131.5" stroke="#222" stroke-width="1.1"/>
<line x1="478" y1="99.95" x2="567.8" y2="99.95" stroke="#3c9a48" stroke-width="0.9" stroke-dasharray="3.2,1.8"/>
<line x1="495.9" y1="102.04" x2="549.9" y2="102.04" stroke="#8b1a1a" stroke-width="1.3"/>
<circle cx="522.9" cy="22" r="1.5" fill="none" stroke="#222" stroke-width="0.7"/>
<circle cx="518.8" cy="50.7" r="1.55" fill="#1f1f8f" stroke="none" stroke-width="0" fill-opacity="0.55"/>
<circle cx="524.5" cy="54.9" r="1.55" fill="#1f1f8f" stroke="none" stroke-width="0" fill-opacity="0.55"/>
<circle cx="525.2" cy="54.5" r="1.55" fill="#1f1f8f" stroke="none" stroke-width="0" fill-opacity="0.55"/>
<circle cx="523.9" cy="63.8" r="1.55" fill="#1f1f8f" stroke="none" stroke-width="0" fill-opacity="0.55"/>
<circle cx="518.2" cy="78.7" r="1.55" fill="#1f1f8f" stroke="none" stroke-width="0" fill-opacity="0.55"/>
<circle cx="520.1" cy="78" r="1.55" fill="#1f1f8f" stroke="none" stroke-width="0" fill-opacity="0.55"/>
<circle cx="522.6" cy="81.8" r="1.55" fill="#1f1f8f" stroke="none" stroke-width="0" fill-opacity="0.55"/>
<circle cx="523.2" cy="82.5" r="1.55" fill="#1f1f8f" stroke="none" stroke-width="0" fill-opacity="0.55"/>
<circle cx="521.3" cy="83.8" r="1.55" fill="#1f1f8f" stroke="none" stroke-width="0" fill-opacity="0.55"/>
<circle cx="520.7" cy="84.4" r="1.55" fill="#1f1f8f" stroke="none" stroke-width="0" fill-opacity="0.55"/>
<circle cx="524.5" cy="86.3" r="1.55" fill="#1f1f8f" stroke="none" stroke-width="0" fill-opacity="0.55"/>
<circle cx="520.1" cy="88.8" r="1.55" fill="#1f1f8f" stroke="none" stroke-width="0" fill-opacity="0.55"/>
<circle cx="523.2" cy="88.2" r="1.55" fill="#1f1f8f" stroke="none" stroke-width="0" fill-opacity="0.55"/>
<circle cx="524.5" cy="89.5" r="1.55" fill="#1f1f8f" stroke="none" stroke-width="0" fill-opacity="0.55"/>
<circle cx="521.3" cy="92" r="1.55" fill="#1f1f8f" stroke="none" stroke-width="0" fill-opacity="0.55"/>
<circle cx="523.9" cy="92.6" r="1.55" fill="#1f1f8f" stroke="none" stroke-width="0" fill-opacity="0.55"/>
<circle cx="520.7" cy="93.9" r="1.55" fill="#1f1f8f" stroke="none" stroke-width="0" fill-opacity="0.55"/>
<circle cx="522" cy="94.6" r="1.55" fill="#1f1f8f" stroke="none" stroke-width="0" fill-opacity="0.55"/>
<circle cx="521.7" cy="99" r="1.55" fill="#1f1f8f" stroke="none" stroke-width="0" fill-opacity="0.55"/>
<circle cx="527.1" cy="99.6" r="1.55" fill="#1f1f8f" stroke="none" stroke-width="0" fill-opacity="0.55"/>
<circle cx="518.2" cy="101.5" r="1.55" fill="#1f1f8f" stroke="none" stroke-width="0" fill-opacity="0.55"/>
<circle cx="521.3" cy="100.9" r="1.55" fill="#1f1f8f" stroke="none" stroke-width="0" fill-opacity="0.55"/>
<circle cx="523.2" cy="102.8" r="1.55" fill="#1f1f8f" stroke="none" stroke-width="0" fill-opacity="0.55"/>
<circle cx="525.8" cy="102.8" r="1.55" fill="#1f1f8f" stroke="none" stroke-width="0" fill-opacity="0.55"/>
<circle cx="522.6" cy="106.6" r="1.55" fill="#1f1f8f" stroke="none" stroke-width="0" fill-opacity="0.55"/>
<circle cx="524.5" cy="109.2" r="1.55" fill="#1f1f8f" stroke="none" stroke-width="0" fill-opacity="0.55"/>
<circle cx="518.2" cy="111.1" r="1.55" fill="#1f1f8f" stroke="none" stroke-width="0" fill-opacity="0.55"/>
<circle cx="522.6" cy="111.7" r="1.55" fill="#1f1f8f" stroke="none" stroke-width="0" fill-opacity="0.55"/>
<circle cx="520.7" cy="114.9" r="1.55" fill="#1f1f8f" stroke="none" stroke-width="0" fill-opacity="0.55"/>
<circle cx="525.2" cy="114.9" r="1.55" fill="#1f1f8f" stroke="none" stroke-width="0" fill-opacity="0.55"/>
<circle cx="516.3" cy="118.7" r="1.55" fill="#1f1f8f" stroke="none" stroke-width="0" fill-opacity="0.55"/>
<circle cx="521.3" cy="119.3" r="1.55" fill="#1f1f8f" stroke="none" stroke-width="0" fill-opacity="0.55"/>
<circle cx="523.2" cy="118.7" r="1.55" fill="#1f1f8f" stroke="none" stroke-width="0" fill-opacity="0.55"/>
<circle cx="520.7" cy="120.6" r="1.55" fill="#1f1f8f" stroke="none" stroke-width="0" fill-opacity="0.55"/>
<circle cx="521.3" cy="121.9" r="1.55" fill="#1f1f8f" stroke="none" stroke-width="0" fill-opacity="0.55"/>
<circle cx="524.5" cy="121.9" r="1.55" fill="#1f1f8f" stroke="none" stroke-width="0" fill-opacity="0.55"/>
<circle cx="523.2" cy="125.3" r="1.55" fill="#1f1f8f" stroke="none" stroke-width="0" fill-opacity="0.55"/>
<circle cx="519.4" cy="128.2" r="1.55" fill="#1f1f8f" stroke="none" stroke-width="0" fill-opacity="0.55"/>
<circle cx="522" cy="131.4" r="1.55" fill="#1f1f8f" stroke="none" stroke-width="0" fill-opacity="0.55"/>
<circle cx="523.2" cy="131.7" r="1.55" fill="#1f1f8f" stroke="none" stroke-width="0" fill-opacity="0.55"/>
<circle cx="524.3" cy="131.7" r="1.55" fill="#1f1f8f" stroke="none" stroke-width="0" fill-opacity="0.55"/>
<circle cx="523" cy="22" r="1.55" fill="#1f1f8f" stroke="none" stroke-width="0" fill-opacity="0.55"/>
<circle cx="521.55" cy="114.33" r="1.55" fill="#1f1f8f" stroke="none" stroke-width="0" fill-opacity="0.55"/>
<circle cx="525.01" cy="110.07" r="1.55" fill="#1f1f8f" stroke="none" stroke-width="0" fill-opacity="0.55"/>
<circle cx="524.17" cy="109.11" r="1.55" fill="#1f1f8f" stroke="none" stroke-width="0" fill-opacity="0.55"/>
<circle cx="521.56" cy="83.47" r="1.55" fill="#1f1f8f" stroke="none" stroke-width="0" fill-opacity="0.55"/>
<circle cx="522.45" cy="91.69" r="1.55" fill="#1f1f8f" stroke="none" stroke-width="0" fill-opacity="0.55"/>
<circle cx="523.93" cy="89.98" r="1.55" fill="#1f1f8f" stroke="none" stroke-width="0" fill-opacity="0.55"/>
<circle cx="520.21" cy="91.46" r="1.55" fill="#1f1f8f" stroke="none" stroke-width="0" fill-opacity="0.55"/>
<circle cx="523.25" cy="91.88" r="1.55" fill="#1f1f8f" stroke="none" stroke-width="0" fill-opacity="0.55"/>
<circle cx="525.14" cy="109.9" r="1.55" fill="#1f1f8f" stroke="none" stroke-width="0" fill-opacity="0.55"/>
<rect x="539.4" y="12.3" width="26.4" height="5.9" fill="#fff" stroke="#d8d8d8" stroke-width="0.4" rx="0.8"/>
<line x1="540.4" y1="15.2" x2="547.4" y2="15.2" stroke="#6db56d" stroke-width="1.3" stroke-dasharray="2.8,1.2"/>
<text x="550" y="15.3" font-size="4" text-anchor="start" dominant-baseline="central" fill="#555">μ=1.64</text>
<rect x="550.3" y="131" width="16.3" height="5.8" fill="#f6f0d8" stroke="#ebe3c6" stroke-width="0.4" rx="0.8"/>
<text x="558.5" y="134.1" font-size="4.5" text-anchor="middle" dominant-baseline="central" fill="#444">σ=1.03</text>
<text x="525.1" y="5" font-size="6.4" text-anchor="middle" dominant-baseline="central" fill="#222" font-weight="bold" stroke="#222" stroke-width="0.18">HD95 (mm)</text>
<text x="467.2" y="74.8" font-size="5.7" text-anchor="middle" dominant-baseline="central" fill="#222" font-weight="bold" transform="rotate(-90 467.2 74.8)">HD95 (mm)</text>
<text x="522.9" y="144.6" font-size="5" text-anchor="middle" dominant-baseline="central" fill="#333">n=51</text>
<text x="460.2" y="8.9" font-size="11.4" font-weight="bold" fill="#000">e)</text>
<line x1="592.4" y1="123.5" x2="682.2" y2="123.5" stroke="#ebebeb" stroke-width="0.6"/>
<line x1="592.4" y1="109" x2="682.2" y2="109" stroke="#ebebeb" stroke-width="0.6"/>
<line x1="592.4" y1="94.5" x2="682.2" y2="94.5" stroke="#ebebeb" stroke-width="0.6"/>
<line x1="592.4" y1="80" x2="682.2" y2="80" stroke="#ebebeb" stroke-width="0.6"/>
<line x1="592.4" y1="65.5" x2="682.2" y2="65.5" stroke="#ebebeb" stroke-width="0.6"/>
<line x1="592.4" y1="51" x2="682.2" y2="51" stroke="#ebebeb" stroke-width="0.6"/>
<line x1="592.4" y1="36.5" x2="682.2" y2="36.5" stroke="#ebebeb" stroke-width="0.6"/>
<line x1="592.4" y1="22" x2="682.2" y2="22" stroke="#ebebeb" stroke-width="0.6"/>
<line x1="637.3" y1="10.4" x2="637.3" y2="138" stroke="#ebebeb" stroke-width="0.6"/>
<rect x="592.4" y="10.4" width="89.8" height="127.6" fill="none" stroke="#d9d9d9" stroke-width="0.7"/>
<text x="589.2" y="138.55" font-size="4.8" text-anchor="end" dominant-baseline="central" fill="#333">0.00</text>
<text x="589.2" y="124.05" font-size="4.8" text-anchor="end" dominant-baseline="central" fill="#333">0.25</text>
<text x="589.2" y="109.55" font-size="4.8" text-anchor="end" dominant-baseline="central" fill="#333">0.50</text>
<text x="589.2" y="95.05" font-size="4.8" text-anchor="end" dominant-baseline="central" fill="#333">0.75</text>
<text x="589.2" y="80.55" font-size="4.8" text-anchor="end" dominant-baseline="central" fill="#333">1.00</text>
<text x="589.2" y="66.05" font-size="4.8" text-anchor="end" dominant-baseline="central" fill="#333">1.25</text>
<text x="589.2" y="51.55" font-size="4.8" text-anchor="end" dominant-baseline="central" fill="#333">1.50</text>
<text x="589.2" y="37.05" font-size="4.8" text-anchor="end" dominant-baseline="central" fill="#333">1.75</text>
<text x="589.2" y="22.55" font-size="4.8" text-anchor="end" dominant-baseline="central" fill="#333">2.00</text>
<line x1="637.3" y1="71.18" x2="637.3" y2="99.31" stroke="#222" stroke-width="1.1"/>
<line x1="637.3" y1="122.4" x2="637.3" y2="132.37" stroke="#222" stroke-width="1.1"/>
<rect x="610.3" y="99.31" width="54" height="23.08" fill="#8ad5be" stroke="#3a3a3a" stroke-width="0.8"/>
<line x1="623.8" y1="71.18" x2="650.8" y2="71.18" stroke="#222" stroke-width="1.1"/>
<line x1="623.8" y1="132.37" x2="650.8" y2="132.37" stroke="#222" stroke-width="1.1"/>
<line x1="592.4" y1="110.16" x2="682.2" y2="110.16" stroke="#3c9a48" stroke-width="0.9" stroke-dasharray="3.2,1.8"/>
<line x1="610.3" y1="110.62" x2="664.3" y2="110.62" stroke="#8b1a1a" stroke-width="1.3"/>
<circle cx="637.5" cy="71.1" r="1.55" fill="#1f1f8f" stroke="none" stroke-width="0" fill-opacity="0.55"/>
<circle cx="638.8" cy="80.8" r="1.55" fill="#1f1f8f" stroke="none" stroke-width="0" fill-opacity="0.55"/>
<circle cx="639.6" cy="81.8" r="1.55" fill="#1f1f8f" stroke="none" stroke-width="0" fill-opacity="0.55"/>
<circle cx="637.8" cy="84.3" r="1.55" fill="#1f1f8f" stroke="none" stroke-width="0" fill-opacity="0.55"/>
<circle cx="639.6" cy="87.8" r="1.55" fill="#1f1f8f" stroke="none" stroke-width="0" fill-opacity="0.55"/>
<circle cx="633.4" cy="89.6" r="1.55" fill="#1f1f8f" stroke="none" stroke-width="0" fill-opacity="0.55"/>
<circle cx="639.6" cy="94.7" r="1.55" fill="#1f1f8f" stroke="none" stroke-width="0" fill-opacity="0.55"/>
<circle cx="638.3" cy="95.7" r="1.55" fill="#1f1f8f" stroke="none" stroke-width="0" fill-opacity="0.55"/>
<circle cx="632.4" cy="97.2" r="1.55" fill="#1f1f8f" stroke="none" stroke-width="0" fill-opacity="0.55"/>
<circle cx="635.9" cy="97.2" r="1.55" fill="#1f1f8f" stroke="none" stroke-width="0" fill-opacity="0.55"/>
<circle cx="634.9" cy="99.2" r="1.55" fill="#1f1f8f" stroke="none" stroke-width="0" fill-opacity="0.55"/>
<circle cx="642.3" cy="99.7" r="1.55" fill="#1f1f8f" stroke="none" stroke-width="0" fill-opacity="0.55"/>
<circle cx="638.3" cy="100.6" r="1.55" fill="#1f1f8f" stroke="none" stroke-width="0" fill-opacity="0.55"/>
<circle cx="636.4" cy="102.6" r="1.55" fill="#1f1f8f" stroke="none" stroke-width="0" fill-opacity="0.55"/>
<circle cx="640.8" cy="103.1" r="1.55" fill="#1f1f8f" stroke="none" stroke-width="0" fill-opacity="0.55"/>
<circle cx="639.8" cy="104.6" r="1.55" fill="#1f1f8f" stroke="none" stroke-width="0" fill-opacity="0.55"/>
<circle cx="640.3" cy="105.6" r="1.55" fill="#1f1f8f" stroke="none" stroke-width="0" fill-opacity="0.55"/>
<circle cx="631.4" cy="108.6" r="1.55" fill="#1f1f8f" stroke="none" stroke-width="0" fill-opacity="0.55"/>
<circle cx="636.9" cy="109.1" r="1.55" fill="#1f1f8f" stroke="none" stroke-width="0" fill-opacity="0.55"/>
<circle cx="638.3" cy="110" r="1.55" fill="#1f1f8f" stroke="none" stroke-width="0" fill-opacity="0.55"/>
<circle cx="634.9" cy="112.5" r="1.55" fill="#1f1f8f" stroke="none" stroke-width="0" fill-opacity="0.55"/>
<circle cx="638.8" cy="113.5" r="1.55" fill="#1f1f8f" stroke="none" stroke-width="0" fill-opacity="0.55"/>
<circle cx="636.9" cy="115.5" r="1.55" fill="#1f1f8f" stroke="none" stroke-width="0" fill-opacity="0.55"/>
<circle cx="637.8" cy="117.5" r="1.55" fill="#1f1f8f" stroke="none" stroke-width="0" fill-opacity="0.55"/>
<circle cx="639.3" cy="119.5" r="1.55" fill="#1f1f8f" stroke="none" stroke-width="0" fill-opacity="0.55"/>
<circle cx="634.4" cy="120.9" r="1.55" fill="#1f1f8f" stroke="none" stroke-width="0" fill-opacity="0.55"/>
<circle cx="642.8" cy="120.4" r="1.55" fill="#1f1f8f" stroke="none" stroke-width="0" fill-opacity="0.55"/>
<circle cx="634.9" cy="122.4" r="1.55" fill="#1f1f8f" stroke="none" stroke-width="0" fill-opacity="0.55"/>
<circle cx="643.3" cy="122.4" r="1.55" fill="#1f1f8f" stroke="none" stroke-width="0" fill-opacity="0.55"/>
<circle cx="635.9" cy="124.4" r="1.55" fill="#1f1f8f" stroke="none" stroke-width="0" fill-opacity="0.55"/>
<circle cx="635.4" cy="125.9" r="1.55" fill="#1f1f8f" stroke="none" stroke-width="0" fill-opacity="0.55"/>
<circle cx="634.9" cy="127.4" r="1.55" fill="#1f1f8f" stroke="none" stroke-width="0" fill-opacity="0.55"/>
<circle cx="631.9" cy="128.4" r="1.55" fill="#1f1f8f" stroke="none" stroke-width="0" fill-opacity="0.55"/>
<circle cx="636.9" cy="129.9" r="1.55" fill="#1f1f8f" stroke="none" stroke-width="0" fill-opacity="0.55"/>
<circle cx="638.3" cy="130.3" r="1.55" fill="#1f1f8f" stroke="none" stroke-width="0" fill-opacity="0.55"/>
<circle cx="631.9" cy="132.8" r="1.55" fill="#1f1f8f" stroke="none" stroke-width="0" fill-opacity="0.55"/>
<circle cx="634.4" cy="132.8" r="1.55" fill="#1f1f8f" stroke="none" stroke-width="0" fill-opacity="0.55"/>
<circle cx="636.4" cy="132.8" r="1.55" fill="#1f1f8f" stroke="none" stroke-width="0" fill-opacity="0.55"/>
<circle cx="638.8" cy="132.8" r="1.55" fill="#1f1f8f" stroke="none" stroke-width="0" fill-opacity="0.55"/>
<circle cx="641.8" cy="132.8" r="1.55" fill="#1f1f8f" stroke="none" stroke-width="0" fill-opacity="0.55"/>
<circle cx="637.85" cy="101.45" r="1.55" fill="#1f1f8f" stroke="none" stroke-width="0" fill-opacity="0.55"/>
<circle cx="638.81" cy="120.46" r="1.55" fill="#1f1f8f" stroke="none" stroke-width="0" fill-opacity="0.55"/>
<circle cx="633.93" cy="123.13" r="1.55" fill="#1f1f8f" stroke="none" stroke-width="0" fill-opacity="0.55"/>
<circle cx="642.04" cy="120.45" r="1.55" fill="#1f1f8f" stroke="none" stroke-width="0" fill-opacity="0.55"/>
<circle cx="638.81" cy="101.06" r="1.55" fill="#1f1f8f" stroke="none" stroke-width="0" fill-opacity="0.55"/>
<circle cx="638.35" cy="117.42" r="1.55" fill="#1f1f8f" stroke="none" stroke-width="0" fill-opacity="0.55"/>
<circle cx="633.27" cy="120.12" r="1.55" fill="#1f1f8f" stroke="none" stroke-width="0" fill-opacity="0.55"/>
<circle cx="638.05" cy="115.24" r="1.55" fill="#1f1f8f" stroke="none" stroke-width="0" fill-opacity="0.55"/>
<circle cx="635.4" cy="99.59" r="1.55" fill="#1f1f8f" stroke="none" stroke-width="0" fill-opacity="0.55"/>
<circle cx="635.19" cy="124.04" r="1.55" fill="#1f1f8f" stroke="none" stroke-width="0" fill-opacity="0.55"/>
<circle cx="643.88" cy="119.8" r="1.55" fill="#1f1f8f" stroke="none" stroke-width="0" fill-opacity="0.55"/>
<rect x="653.8" y="12.3" width="26.4" height="5.9" fill="#fff" stroke="#d8d8d8" stroke-width="0.4" rx="0.8"/>
<line x1="654.8" y1="15.2" x2="661.8" y2="15.2" stroke="#6db56d" stroke-width="1.3" stroke-dasharray="2.8,1.2"/>
<text x="664.4" y="15.3" font-size="4" text-anchor="start" dominant-baseline="central" fill="#555">μ=0.48</text>
<rect x="664.7" y="131" width="16.3" height="5.8" fill="#f6f0d8" stroke="#ebe3c6" stroke-width="0.4" rx="0.8"/>
<text x="672.9" y="134.1" font-size="4.5" text-anchor="middle" dominant-baseline="central" fill="#444">σ=0.27</text>
<text x="639.5" y="5" font-size="6.4" text-anchor="middle" dominant-baseline="central" fill="#222" font-weight="bold" stroke="#222" stroke-width="0.18">ASD (mm)</text>
<text x="573.8" y="74.8" font-size="5.7" text-anchor="middle" dominant-baseline="central" fill="#222" font-weight="bold" transform="rotate(-90 573.8 74.8)">ASD (mm)</text>
<text x="637.3" y="144.6" font-size="5" text-anchor="middle" dominant-baseline="central" fill="#333">n=51</text>
<text x="574.7" y="8.9" font-size="11.4" font-weight="bold" fill="#000">f)</text>
<line x1="20.4" y1="266.8" x2="110" y2="266.8" stroke="#ebebeb" stroke-width="0.6"/>
<line x1="20.4" y1="241.2" x2="110" y2="241.2" stroke="#ebebeb" stroke-width="0.6"/>
<line x1="20.4" y1="215.6" x2="110" y2="215.6" stroke="#ebebeb" stroke-width="0.6"/>
<line x1="20.4" y1="190" x2="110" y2="190" stroke="#ebebeb" stroke-width="0.6"/>
<line x1="35.4" y1="164.4" x2="35.4" y2="292.4" stroke="#ebebeb" stroke-width="0.6"/>
<line x1="65.2" y1="164.4" x2="65.2" y2="292.4" stroke="#ebebeb" stroke-width="0.6"/>
<line x1="95" y1="164.4" x2="95" y2="292.4" stroke="#ebebeb" stroke-width="0.6"/>
<rect x="20.4" y="164.4" width="89.6" height="128" fill="none" stroke="#d9d9d9" stroke-width="0.7"/>
<text x="17.2" y="292.95" font-size="4.8" text-anchor="end" dominant-baseline="central" fill="#333">88</text>
<text x="17.2" y="267.35" font-size="4.8" text-anchor="end" dominant-baseline="central" fill="#333">90</text>
<text x="17.2" y="241.75" font-size="4.8" text-anchor="end" dominant-baseline="central" fill="#333">92</text>
<text x="17.2" y="216.15" font-size="4.8" text-anchor="end" dominant-baseline="central" fill="#333">94</text>
<text x="17.2" y="190.55" font-size="4.8" text-anchor="end" dominant-baseline="central" fill="#333">96</text>
<text x="17.2" y="164.95" font-size="4.8" text-anchor="end" dominant-baseline="central" fill="#333">98</text>
<line x1="35.4" y1="192.43" x2="35.4" y2="214.45" stroke="#555" stroke-width="0.8"/>
<line x1="35.4" y1="231.98" x2="35.4" y2="241.46" stroke="#555" stroke-width="0.8"/>
<line x1="31.6" y1="192.43" x2="39.2" y2="192.43" stroke="#555" stroke-width="0.8"/>
<line x1="31.6" y1="241.46" x2="39.2" y2="241.46" stroke="#555" stroke-width="0.8"/>
<rect x="27.8" y="214.45" width="15.2" height="17.54" fill="#edd6b2" stroke="#555" stroke-width="0.7"/>
<line x1="28.2" y1="218.03" x2="42.6" y2="218.03" stroke="#e8413f" stroke-width="1.4"/>
<text x="35.4" y="171.8" font-size="4.2" text-anchor="middle" dominant-baseline="central" fill="#111" font-weight="bold">93.57</text>
<text x="35.4" y="298.3" font-size="4.8" text-anchor="middle" dominant-baseline="central" fill="#333">T0</text>
<line x1="65.2" y1="206.38" x2="65.2" y2="219.44" stroke="#555" stroke-width="0.8"/>
<line x1="65.2" y1="240.43" x2="65.2" y2="257.46" stroke="#555" stroke-width="0.8"/>
<line x1="61.4" y1="206.38" x2="69" y2="206.38" stroke="#555" stroke-width="0.8"/>
<line x1="61.4" y1="257.46" x2="69" y2="257.46" stroke="#555" stroke-width="0.8"/>
<rect x="57.6" y="219.44" width="15.2" height="20.99" fill="#b9d9ee" stroke="#555" stroke-width="0.7"/>
<line x1="58" y1="226.99" x2="72.4" y2="226.99" stroke="#e8413f" stroke-width="1.4"/>
<circle cx="65.2" cy="187.44" r="1.5" fill="none" stroke="#444" stroke-width="0.6"/>
<text x="65.2" y="171.8" font-size="4.2" text-anchor="middle" dominant-baseline="central" fill="#111" font-weight="bold">93.00</text>
<text x="65.2" y="298.3" font-size="4.8" text-anchor="middle" dominant-baseline="central" fill="#333">T1</text>
<line x1="95" y1="194.22" x2="95" y2="215.6" stroke="#555" stroke-width="0.8"/>
<line x1="95" y1="244.02" x2="95" y2="253.36" stroke="#555" stroke-width="0.8"/>
<line x1="91.2" y1="194.22" x2="98.8" y2="194.22" stroke="#555" stroke-width="0.8"/>
<line x1="91.2" y1="253.36" x2="98.8" y2="253.36" stroke="#555" stroke-width="0.8"/>
<rect x="87.4" y="215.6" width="15.2" height="28.42" fill="#c8b4d9" stroke="#555" stroke-width="0.7"/>
<line x1="87.8" y1="226.99" x2="102.2" y2="226.99" stroke="#e8413f" stroke-width="1.4"/>
<text x="95" y="171.8" font-size="4.2" text-anchor="middle" dominant-baseline="central" fill="#111" font-weight="bold">93.01</text>
<text x="95" y="298.3" font-size="4.8" text-anchor="middle" dominant-baseline="central" fill="#333">T2</text>
<text x="65.2" y="159.4" font-size="6.3" text-anchor="middle" dominant-baseline="central" fill="#222" font-weight="bold" stroke="#222" stroke-width="0.18">Dice by Timepoint</text>
<text x="6.8" y="228.4" font-size="5.6" text-anchor="middle" dominant-baseline="central" fill="#222" font-weight="bold" transform="rotate(-90 6.8 228.4)">Dice (%)</text>
<text x="1.7" y="163.3" font-size="11.4" font-weight="bold" fill="#000">j)</text>
<line x1="134.6" y1="269.13" x2="224.2" y2="269.13" stroke="#ebebeb" stroke-width="0.6"/>
<line x1="134.6" y1="245.85" x2="224.2" y2="245.85" stroke="#ebebeb" stroke-width="0.6"/>
<line x1="134.6" y1="222.58" x2="224.2" y2="222.58" stroke="#ebebeb" stroke-width="0.6"/>
<line x1="134.6" y1="199.31" x2="224.2" y2="199.31" stroke="#ebebeb" stroke-width="0.6"/>
<line x1="134.6" y1="176.04" x2="224.2" y2="176.04" stroke="#ebebeb" stroke-width="0.6"/>
<line x1="149.6" y1="164.4" x2="149.6" y2="292.4" stroke="#ebebeb" stroke-width="0.6"/>
<line x1="179.4" y1="164.4" x2="179.4" y2="292.4" stroke="#ebebeb" stroke-width="0.6"/>
<line x1="209.2" y1="164.4" x2="209.2" y2="292.4" stroke="#ebebeb" stroke-width="0.6"/>
<rect x="134.6" y="164.4" width="89.6" height="128" fill="none" stroke="#d9d9d9" stroke-width="0.7"/>
<text x="131.4" y="292.95" font-size="4.8" text-anchor="end" dominant-baseline="central" fill="#333">86</text>
<text x="131.4" y="269.68" font-size="4.8" text-anchor="end" dominant-baseline="central" fill="#333">88</text>
<text x="131.4" y="246.4" font-size="4.8" text-anchor="end" dominant-baseline="central" fill="#333">90</text>
<text x="131.4" y="223.13" font-size="4.8" text-anchor="end" dominant-baseline="central" fill="#333">92</text>
<text x="131.4" y="199.86" font-size="4.8" text-anchor="end" dominant-baseline="central" fill="#333">94</text>
<text x="131.4" y="176.59" font-size="4.8" text-anchor="end" dominant-baseline="central" fill="#333">96</text>
<line x1="149.6" y1="198.15" x2="149.6" y2="214.44" stroke="#555" stroke-width="0.8"/>
<line x1="149.6" y1="229.45" x2="149.6" y2="247.37" stroke="#555" stroke-width="0.8"/>
<line x1="145.8" y1="198.15" x2="153.4" y2="198.15" stroke="#555" stroke-width="0.8"/>
<line x1="145.8" y1="247.37" x2="153.4" y2="247.37" stroke="#555" stroke-width="0.8"/>
<rect x="142" y="214.44" width="15.2" height="15.01" fill="#edd6b2" stroke="#555" stroke-width="0.7"/>
<line x1="142.4" y1="222.35" x2="156.8" y2="222.35" stroke="#e8413f" stroke-width="1.4"/>
<text x="149.6" y="171.8" font-size="4.2" text-anchor="middle" dominant-baseline="central" fill="#111" font-weight="bold">91.93</text>
<text x="149.6" y="298.3" font-size="4.8" text-anchor="middle" dominant-baseline="central" fill="#333">T0</text>
<line x1="179.4" y1="186.39" x2="179.4" y2="200.36" stroke="#555" stroke-width="0.8"/>
<line x1="179.4" y1="232.36" x2="179.4" y2="265.4" stroke="#555" stroke-width="0.8"/>
<line x1="175.6" y1="186.39" x2="183.2" y2="186.39" stroke="#555" stroke-width="0.8"/>
<line x1="175.6" y1="265.4" x2="183.2" y2="265.4" stroke="#555" stroke-width="0.8"/>
<rect x="171.8" y="200.36" width="15.2" height="32" fill="#b9d9ee" stroke="#555" stroke-width="0.7"/>
<line x1="172.2" y1="215.37" x2="186.6" y2="215.37" stroke="#e8413f" stroke-width="1.4"/>
<text x="179.4" y="171.8" font-size="4.2" text-anchor="middle" dominant-baseline="central" fill="#111" font-weight="bold">92.34</text>
<text x="179.4" y="298.3" font-size="4.8" text-anchor="middle" dominant-baseline="central" fill="#333">T1</text>
<line x1="209.2" y1="186.63" x2="209.2" y2="207.45" stroke="#555" stroke-width="0.8"/>
<line x1="209.2" y1="236.43" x2="209.2" y2="279.37" stroke="#555" stroke-width="0.8"/>
<line x1="205.4" y1="186.63" x2="213" y2="186.63" stroke="#555" stroke-width="0.8"/>
<line x1="205.4" y1="279.37" x2="213" y2="279.37" stroke="#555" stroke-width="0.8"/>
<rect x="201.6" y="207.45" width="15.2" height="28.97" fill="#c8b4d9" stroke="#555" stroke-width="0.7"/>
<line x1="202" y1="225.96" x2="216.4" y2="225.96" stroke="#e8413f" stroke-width="1.4"/>
<text x="209.2" y="171.8" font-size="4.2" text-anchor="middle" dominant-baseline="central" fill="#111" font-weight="bold">91.89</text>
<text x="209.2" y="298.3" font-size="4.8" text-anchor="middle" dominant-baseline="central" fill="#333">T2</text>
<text x="179.4" y="159.4" font-size="6.3" text-anchor="middle" dominant-baseline="central" fill="#222" font-weight="bold" stroke="#222" stroke-width="0.18">IoU by Timepoint</text>
<text x="121" y="228.4" font-size="5.6" text-anchor="middle" dominant-baseline="central" fill="#222" font-weight="bold" transform="rotate(-90 121 228.4)">IoU (%)</text>
<text x="115.2" y="163.3" font-size="11.4" font-weight="bold" fill="#000">h)</text>
<line x1="248.8" y1="280.76" x2="338.4" y2="280.76" stroke="#ebebeb" stroke-width="0.6"/>
<line x1="248.8" y1="257.49" x2="338.4" y2="257.49" stroke="#ebebeb" stroke-width="0.6"/>
<line x1="248.8" y1="234.22" x2="338.4" y2="234.22" stroke="#ebebeb" stroke-width="0.6"/>
<line x1="248.8" y1="210.95" x2="338.4" y2="210.95" stroke="#ebebeb" stroke-width="0.6"/>
<line x1="248.8" y1="187.67" x2="338.4" y2="187.67" stroke="#ebebeb" stroke-width="0.6"/>
<line x1="263.8" y1="164.4" x2="263.8" y2="292.4" stroke="#ebebeb" stroke-width="0.6"/>
<line x1="293.6" y1="164.4" x2="293.6" y2="292.4" stroke="#ebebeb" stroke-width="0.6"/>
<line x1="323.4" y1="164.4" x2="323.4" y2="292.4" stroke="#ebebeb" stroke-width="0.6"/>
<rect x="248.8" y="164.4" width="89.6" height="128" fill="none" stroke="#d9d9d9" stroke-width="0.7"/>
<text x="245.6" y="281.31" font-size="4.8" text-anchor="end" dominant-baseline="central" fill="#333">88</text>
<text x="245.6" y="258.04" font-size="4.8" text-anchor="end" dominant-baseline="central" fill="#333">90</text>
<text x="245.6" y="234.77" font-size="4.8" text-anchor="end" dominant-baseline="central" fill="#333">92</text>
<text x="245.6" y="211.5" font-size="4.8" text-anchor="end" dominant-baseline="central" fill="#333">94</text>
<text x="245.6" y="188.22" font-size="4.8" text-anchor="end" dominant-baseline="central" fill="#333">96</text>
<text x="245.6" y="164.95" font-size="4.8" text-anchor="end" dominant-baseline="central" fill="#333">98</text>
<line x1="263.8" y1="194.19" x2="263.8" y2="213.39" stroke="#555" stroke-width="0.8"/>
<line x1="263.8" y1="236.43" x2="263.8" y2="243.18" stroke="#555" stroke-width="0.8"/>
<line x1="260" y1="194.19" x2="267.6" y2="194.19" stroke="#555" stroke-width="0.8"/>
<line x1="260" y1="243.18" x2="267.6" y2="243.18" stroke="#555" stroke-width="0.8"/>
<rect x="256.2" y="213.39" width="15.2" height="23.04" fill="#edd6b2" stroke="#555" stroke-width="0.7"/>
<line x1="256.6" y1="220.37" x2="271" y2="220.37" stroke="#e8413f" stroke-width="1.4"/>
<text x="263.8" y="171.8" font-size="4.2" text-anchor="middle" dominant-baseline="central" fill="#111" font-weight="bold">93.09</text>
<text x="263.8" y="298.3" font-size="4.8" text-anchor="middle" dominant-baseline="central" fill="#333">T0</text>
<line x1="293.6" y1="188.37" x2="293.6" y2="211.41" stroke="#555" stroke-width="0.8"/>
<line x1="293.6" y1="233.17" x2="293.6" y2="246.44" stroke="#555" stroke-width="0.8"/>
<line x1="289.8" y1="188.37" x2="297.4" y2="188.37" stroke="#555" stroke-width="0.8"/>
<line x1="289.8" y1="246.44" x2="297.4" y2="246.44" stroke="#555" stroke-width="0.8"/>
<rect x="286" y="211.41" width="15.2" height="21.76" fill="#b9d9ee" stroke="#555" stroke-width="0.7"/>
<line x1="286.4" y1="218.97" x2="300.8" y2="218.97" stroke="#e8413f" stroke-width="1.4"/>
<text x="293.6" y="171.8" font-size="4.2" text-anchor="middle" dominant-baseline="central" fill="#111" font-weight="bold">93.08</text>
<text x="293.6" y="298.3" font-size="4.8" text-anchor="middle" dominant-baseline="central" fill="#333">T1</text>
<line x1="323.4" y1="207.45" x2="323.4" y2="215.25" stroke="#555" stroke-width="0.8"/>
<line x1="323.4" y1="225.61" x2="323.4" y2="240.39" stroke="#555" stroke-width="0.8"/>
<line x1="319.6" y1="207.45" x2="327.2" y2="207.45" stroke="#555" stroke-width="0.8"/>
<line x1="319.6" y1="240.39" x2="327.2" y2="240.39" stroke="#555" stroke-width="0.8"/>
<rect x="315.8" y="215.25" width="15.2" height="10.36" fill="#c8b4d9" stroke="#555" stroke-width="0.7"/>
<line x1="316.2" y1="218.39" x2="330.6" y2="218.39" stroke="#e8413f" stroke-width="1.4"/>
<circle cx="323.4" cy="178.6" r="1.5" fill="none" stroke="#444" stroke-width="0.6"/>
<circle cx="323.4" cy="183.6" r="1.5" fill="none" stroke="#444" stroke-width="0.6"/>
<circle cx="323.4" cy="196.75" r="1.5" fill="none" stroke="#444" stroke-width="0.6"/>
<circle cx="323.4" cy="252.02" r="1.5" fill="none" stroke="#444" stroke-width="0.6"/>
<text x="323.4" y="171.8" font-size="4.2" text-anchor="middle" dominant-baseline="central" fill="#111" font-weight="bold">93.42</text>
<text x="323.4" y="298.3" font-size="4.8" text-anchor="middle" dominant-baseline="central" fill="#333">T2</text>
<text x="293.6" y="159.4" font-size="6.3" text-anchor="middle" dominant-baseline="central" fill="#222" font-weight="bold" stroke="#222" stroke-width="0.18">Precision by Timepoint</text>
<text x="235.2" y="228.4" font-size="5.6" text-anchor="middle" dominant-baseline="central" fill="#222" font-weight="bold" transform="rotate(-90 235.2 228.4)">Precision (%)</text>
<text x="231.7" y="163.3" font-size="11.4" font-weight="bold" fill="#000">i)</text>
<line x1="363.4" y1="281.73" x2="453" y2="281.73" stroke="#ebebeb" stroke-width="0.6"/>
<line x1="363.4" y1="260.4" x2="453" y2="260.4" stroke="#ebebeb" stroke-width="0.6"/>
<line x1="363.4" y1="239.07" x2="453" y2="239.07" stroke="#ebebeb" stroke-width="0.6"/>
<line x1="363.4" y1="217.73" x2="453" y2="217.73" stroke="#ebebeb" stroke-width="0.6"/>
<line x1="363.4" y1="196.4" x2="453" y2="196.4" stroke="#ebebeb" stroke-width="0.6"/>
<line x1="363.4" y1="175.07" x2="453" y2="175.07" stroke="#ebebeb" stroke-width="0.6"/>
<line x1="378.4" y1="164.4" x2="378.4" y2="292.4" stroke="#ebebeb" stroke-width="0.6"/>
<line x1="408.2" y1="164.4" x2="408.2" y2="292.4" stroke="#ebebeb" stroke-width="0.6"/>
<line x1="438" y1="164.4" x2="438" y2="292.4" stroke="#ebebeb" stroke-width="0.6"/>
<rect x="363.4" y="164.4" width="89.6" height="128" fill="none" stroke="#d9d9d9" stroke-width="0.7"/>
<text x="360.2" y="282.28" font-size="4.8" text-anchor="end" dominant-baseline="central" fill="#333">86</text>
<text x="360.2" y="260.95" font-size="4.8" text-anchor="end" dominant-baseline="central" fill="#333">88</text>
<text x="360.2" y="239.62" font-size="4.8" text-anchor="end" dominant-baseline="central" fill="#333">90</text>
<text x="360.2" y="218.28" font-size="4.8" text-anchor="end" dominant-baseline="central" fill="#333">92</text>
<text x="360.2" y="196.95" font-size="4.8" text-anchor="end" dominant-baseline="central" fill="#333">94</text>
<text x="360.2" y="175.62" font-size="4.8" text-anchor="end" dominant-baseline="central" fill="#333">96</text>
<line x1="378.4" y1="196.4" x2="378.4" y2="207.39" stroke="#555" stroke-width="0.8"/>
<line x1="378.4" y1="215.39" x2="378.4" y2="224.35" stroke="#555" stroke-width="0.8"/>
<line x1="374.6" y1="196.4" x2="382.2" y2="196.4" stroke="#555" stroke-width="0.8"/>
<line x1="374.6" y1="224.35" x2="382.2" y2="224.35" stroke="#555" stroke-width="0.8"/>
<rect x="370.8" y="207.39" width="15.2" height="8" fill="#edd6b2" stroke="#555" stroke-width="0.7"/>
<line x1="371.2" y1="211.44" x2="385.6" y2="211.44" stroke="#e8413f" stroke-width="1.4"/>
<circle cx="378.4" cy="182.96" r="1.5" fill="none" stroke="#444" stroke-width="0.6"/>
<circle cx="378.4" cy="191.39" r="1.5" fill="none" stroke="#444" stroke-width="0.6"/>
<circle cx="378.4" cy="235.55" r="1.5" fill="none" stroke="#444" stroke-width="0.6"/>
<circle cx="378.4" cy="249.2" r="1.5" fill="none" stroke="#444" stroke-width="0.6"/>
<text x="378.4" y="171.8" font-size="4.2" text-anchor="middle" dominant-baseline="central" fill="#111" font-weight="bold">92.48</text>
<text x="378.4" y="298.3" font-size="4.8" text-anchor="middle" dominant-baseline="central" fill="#333">T0</text>
<line x1="408.2" y1="198.43" x2="408.2" y2="213.57" stroke="#555" stroke-width="0.8"/>
<line x1="408.2" y1="236.4" x2="408.2" y2="243.97" stroke="#555" stroke-width="0.8"/>
<line x1="404.4" y1="198.43" x2="412" y2="198.43" stroke="#555" stroke-width="0.8"/>
<line x1="404.4" y1="243.97" x2="412" y2="243.97" stroke="#555" stroke-width="0.8"/>
<rect x="400.6" y="213.57" width="15.2" height="22.83" fill="#b9d9ee" stroke="#555" stroke-width="0.7"/>
<line x1="401" y1="224.56" x2="415.4" y2="224.56" stroke="#e8413f" stroke-width="1.4"/>
<text x="408.2" y="171.8" font-size="4.2" text-anchor="middle" dominant-baseline="central" fill="#111" font-weight="bold">91.34</text>
<text x="408.2" y="298.3" font-size="4.8" text-anchor="middle" dominant-baseline="central" fill="#333">T1</text>
<line x1="438" y1="174.64" x2="438" y2="202.37" stroke="#555" stroke-width="0.8"/>
<line x1="438" y1="233.41" x2="438" y2="242.8" stroke="#555" stroke-width="0.8"/>
<line x1="434.2" y1="174.64" x2="441.8" y2="174.64" stroke="#555" stroke-width="0.8"/>
<line x1="434.2" y1="242.8" x2="441.8" y2="242.8" stroke="#555" stroke-width="0.8"/>
<rect x="430.4" y="202.37" width="15.2" height="31.04" fill="#c8b4d9" stroke="#555" stroke-width="0.7"/>
<line x1="430.8" y1="212.61" x2="445.2" y2="212.61" stroke="#e8413f" stroke-width="1.4"/>
<text x="438" y="171.8" font-size="4.2" text-anchor="middle" dominant-baseline="central" fill="#111" font-weight="bold">92.33</text>
<text x="438" y="298.3" font-size="4.8" text-anchor="middle" dominant-baseline="central" fill="#333">T2</text>
<text x="408.2" y="159.4" font-size="6.3" text-anchor="middle" dominant-baseline="central" fill="#222" font-weight="bold" stroke="#222" stroke-width="0.18">Sensitivity by Timepoint</text>
<text x="349.6" y="228.4" font-size="5.6" text-anchor="middle" dominant-baseline="central" fill="#222" font-weight="bold" transform="rotate(-90 349.6 228.4)">Sensitivity (%)</text>
<text x="345.2" y="163.3" font-size="11.4" font-weight="bold" fill="#000">j)</text>
<line x1="477.6" y1="269.13" x2="567.2" y2="269.13" stroke="#ebebeb" stroke-width="0.6"/>
<line x1="477.6" y1="245.85" x2="567.2" y2="245.85" stroke="#ebebeb" stroke-width="0.6"/>
<line x1="477.6" y1="222.58" x2="567.2" y2="222.58" stroke="#ebebeb" stroke-width="0.6"/>
<line x1="477.6" y1="199.31" x2="567.2" y2="199.31" stroke="#ebebeb" stroke-width="0.6"/>
<line x1="477.6" y1="176.04" x2="567.2" y2="176.04" stroke="#ebebeb" stroke-width="0.6"/>
<line x1="492.6" y1="164.4" x2="492.6" y2="292.4" stroke="#ebebeb" stroke-width="0.6"/>
<line x1="522.4" y1="164.4" x2="522.4" y2="292.4" stroke="#ebebeb" stroke-width="0.6"/>
<line x1="552.2" y1="164.4" x2="552.2" y2="292.4" stroke="#ebebeb" stroke-width="0.6"/>
<rect x="477.6" y="164.4" width="89.6" height="128" fill="none" stroke="#d9d9d9" stroke-width="0.7"/>
<text x="474.4" y="292.95" font-size="4.8" text-anchor="end" dominant-baseline="central" fill="#333">0</text>
<text x="474.4" y="269.68" font-size="4.8" text-anchor="end" dominant-baseline="central" fill="#333">1</text>
<text x="474.4" y="246.4" font-size="4.8" text-anchor="end" dominant-baseline="central" fill="#333">2</text>
<text x="474.4" y="223.13" font-size="4.8" text-anchor="end" dominant-baseline="central" fill="#333">3</text>
<text x="474.4" y="199.86" font-size="4.8" text-anchor="end" dominant-baseline="central" fill="#333">4</text>
<text x="474.4" y="176.59" font-size="4.8" text-anchor="end" dominant-baseline="central" fill="#333">5</text>
<line x1="492.6" y1="208.39" x2="492.6" y2="241.67" stroke="#555" stroke-width="0.8"/>
<line x1="492.6" y1="268.43" x2="492.6" y2="285.42" stroke="#555" stroke-width="0.8"/>
<line x1="488.8" y1="208.39" x2="496.4" y2="208.39" stroke="#555" stroke-width="0.8"/>
<line x1="488.8" y1="285.42" x2="496.4" y2="285.42" stroke="#555" stroke-width="0.8"/>
<rect x="485" y="241.67" width="15.2" height="26.76" fill="#edd6b2" stroke="#555" stroke-width="0.7"/>
<line x1="485.4" y1="248.41" x2="499.8" y2="248.41" stroke="#e8413f" stroke-width="1.4"/>
<text x="492.6" y="171.8" font-size="4.2" text-anchor="middle" dominant-baseline="central" fill="#111" font-weight="bold">1.81</text>
<text x="492.6" y="298.3" font-size="4.8" text-anchor="middle" dominant-baseline="central" fill="#333">T0</text>
<line x1="522.4" y1="204.43" x2="522.4" y2="243.06" stroke="#555" stroke-width="0.8"/>
<line x1="522.4" y1="272.39" x2="522.4" y2="285.42" stroke="#555" stroke-width="0.8"/>
<line x1="518.6" y1="204.43" x2="526.2" y2="204.43" stroke="#555" stroke-width="0.8"/>
<line x1="518.6" y1="285.42" x2="526.2" y2="285.42" stroke="#555" stroke-width="0.8"/>
<rect x="514.8" y="243.06" width="15.2" height="29.32" fill="#b9d9ee" stroke="#555" stroke-width="0.7"/>
<line x1="515.2" y1="260.05" x2="529.6" y2="260.05" stroke="#e8413f" stroke-width="1.4"/>
<text x="522.4" y="171.8" font-size="4.2" text-anchor="middle" dominant-baseline="central" fill="#111" font-weight="bold">1.48</text>
<text x="522.4" y="298.3" font-size="4.8" text-anchor="middle" dominant-baseline="central" fill="#333">T1</text>
<line x1="552.2" y1="217" x2="552.2" y2="237.94" stroke="#555" stroke-width="0.8"/>
<line x1="552.2" y1="274.48" x2="552.2" y2="285.42" stroke="#555" stroke-width="0.8"/>
<line x1="548.4" y1="217" x2="556" y2="217" stroke="#555" stroke-width="0.8"/>
<line x1="548.4" y1="285.42" x2="556" y2="285.42" stroke="#555" stroke-width="0.8"/>
<rect x="544.6" y="237.94" width="15.2" height="36.54" fill="#c8b4d9" stroke="#555" stroke-width="0.7"/>
<line x1="545" y1="264.94" x2="559.4" y2="264.94" stroke="#e8413f" stroke-width="1.4"/>
<circle cx="552.2" cy="176.04" r="1.5" fill="none" stroke="#444" stroke-width="0.6"/>
<text x="552.2" y="171.8" font-size="4.2" text-anchor="middle" dominant-baseline="central" fill="#111" font-weight="bold">1.63</text>
<text x="552.2" y="298.3" font-size="4.8" text-anchor="middle" dominant-baseline="central" fill="#333">T2</text>
<text x="522.4" y="159.4" font-size="6.3" text-anchor="middle" dominant-baseline="central" fill="#222" font-weight="bold" stroke="#222" stroke-width="0.18">HD95 by Timepoint</text>
<text x="466.8" y="228.4" font-size="5.6" text-anchor="middle" dominant-baseline="central" fill="#222" font-weight="bold" transform="rotate(-90 466.8 228.4)">HD95 (mm)</text>
<text x="459.2" y="163.3" font-size="11.4" font-weight="bold" fill="#000">k)</text>
<line x1="592.2" y1="277.85" x2="681.8" y2="277.85" stroke="#ebebeb" stroke-width="0.6"/>
<line x1="592.2" y1="263.31" x2="681.8" y2="263.31" stroke="#ebebeb" stroke-width="0.6"/>
<line x1="592.2" y1="248.76" x2="681.8" y2="248.76" stroke="#ebebeb" stroke-width="0.6"/>
<line x1="592.2" y1="234.22" x2="681.8" y2="234.22" stroke="#ebebeb" stroke-width="0.6"/>
<line x1="592.2" y1="219.67" x2="681.8" y2="219.67" stroke="#ebebeb" stroke-width="0.6"/>
<line x1="592.2" y1="205.13" x2="681.8" y2="205.13" stroke="#ebebeb" stroke-width="0.6"/>
<line x1="592.2" y1="190.58" x2="681.8" y2="190.58" stroke="#ebebeb" stroke-width="0.6"/>
<line x1="592.2" y1="176.04" x2="681.8" y2="176.04" stroke="#ebebeb" stroke-width="0.6"/>
<line x1="607.2" y1="164.4" x2="607.2" y2="292.4" stroke="#ebebeb" stroke-width="0.6"/>
<line x1="637" y1="164.4" x2="637" y2="292.4" stroke="#ebebeb" stroke-width="0.6"/>
<line x1="666.8" y1="164.4" x2="666.8" y2="292.4" stroke="#ebebeb" stroke-width="0.6"/>
<rect x="592.2" y="164.4" width="89.6" height="128" fill="none" stroke="#d9d9d9" stroke-width="0.7"/>
<text x="589" y="292.95" font-size="4.8" text-anchor="end" dominant-baseline="central" fill="#333">0.00</text>
<text x="589" y="278.4" font-size="4.8" text-anchor="end" dominant-baseline="central" fill="#333">0.25</text>
<text x="589" y="263.86" font-size="4.8" text-anchor="end" dominant-baseline="central" fill="#333">0.50</text>
<text x="589" y="249.31" font-size="4.8" text-anchor="end" dominant-baseline="central" fill="#333">0.75</text>
<text x="589" y="234.77" font-size="4.8" text-anchor="end" dominant-baseline="central" fill="#333">1.00</text>
<text x="589" y="220.22" font-size="4.8" text-anchor="end" dominant-baseline="central" fill="#333">1.25</text>
<text x="589" y="205.68" font-size="4.8" text-anchor="end" dominant-baseline="central" fill="#333">1.50</text>
<text x="589" y="191.13" font-size="4.8" text-anchor="end" dominant-baseline="central" fill="#333">1.75</text>
<text x="589" y="176.59" font-size="4.8" text-anchor="end" dominant-baseline="central" fill="#333">2.00</text>
<line x1="607.2" y1="235.21" x2="607.2" y2="258.42" stroke="#555" stroke-width="0.8"/>
<line x1="607.2" y1="273.61" x2="607.2" y2="286.52" stroke="#555" stroke-width="0.8"/>
<line x1="603.4" y1="235.21" x2="611" y2="235.21" stroke="#555" stroke-width="0.8"/>
<line x1="603.4" y1="286.52" x2="611" y2="286.52" stroke="#555" stroke-width="0.8"/>
<rect x="599.6" y="258.42" width="15.2" height="15.19" fill="#edd6b2" stroke="#555" stroke-width="0.7"/>
<line x1="600" y1="264.41" x2="614.4" y2="264.41" stroke="#e8413f" stroke-width="1.4"/>
<text x="607.2" y="171.8" font-size="4.2" text-anchor="middle" dominant-baseline="central" fill="#111" font-weight="bold">0.48</text>
<text x="607.2" y="298.3" font-size="4.8" text-anchor="middle" dominant-baseline="central" fill="#333">T0</text>
<line x1="637" y1="241.37" x2="637" y2="265.4" stroke="#555" stroke-width="0.8"/>
<line x1="637" y1="282.97" x2="637" y2="286.58" stroke="#555" stroke-width="0.8"/>
<line x1="633.2" y1="241.37" x2="640.8" y2="241.37" stroke="#555" stroke-width="0.8"/>
<line x1="633.2" y1="286.58" x2="640.8" y2="286.58" stroke="#555" stroke-width="0.8"/>
<rect x="629.4" y="265.4" width="15.2" height="17.57" fill="#b9d9ee" stroke="#555" stroke-width="0.7"/>
<line x1="629.8" y1="275.41" x2="644.2" y2="275.41" stroke="#e8413f" stroke-width="1.4"/>
<text x="637" y="171.8" font-size="4.2" text-anchor="middle" dominant-baseline="central" fill="#111" font-weight="bold">0.35</text>
<text x="637" y="298.3" font-size="4.8" text-anchor="middle" dominant-baseline="central" fill="#333">T1</text>
<line x1="666.8" y1="234.39" x2="666.8" y2="249" stroke="#555" stroke-width="0.8"/>
<line x1="666.8" y1="263.43" x2="666.8" y2="283.38" stroke="#555" stroke-width="0.8"/>
<line x1="663" y1="234.39" x2="670.6" y2="234.39" stroke="#555" stroke-width="0.8"/>
<line x1="663" y1="283.38" x2="670.6" y2="283.38" stroke="#555" stroke-width="0.8"/>
<rect x="659.2" y="249" width="15.2" height="14.43" fill="#c8b4d9" stroke="#555" stroke-width="0.7"/>
<line x1="659.6" y1="253.59" x2="674" y2="253.59" stroke="#e8413f" stroke-width="1.4"/>
<circle cx="666.8" cy="225.03" r="1.5" fill="none" stroke="#444" stroke-width="0.6"/>
<text x="666.8" y="171.8" font-size="4.2" text-anchor="middle" dominant-baseline="central" fill="#111" font-weight="bold">0.61</text>
<text x="666.8" y="298.3" font-size="4.8" text-anchor="middle" dominant-baseline="central" fill="#333">T2</text>
<text x="637" y="159.4" font-size="6.3" text-anchor="middle" dominant-baseline="central" fill="#222" font-weight="bold" stroke="#222" stroke-width="0.18">ASD by Timepoint</text>
<text x="573.6" y="228.4" font-size="5.6" text-anchor="middle" dominant-baseline="central" fill="#222" font-weight="bold" transform="rotate(-90 573.6 228.4)">ASD (mm)</text>
<text x="575.2" y="163.3" font-size="11.4" font-weight="bold" fill="#000">l)</text>
<text x="1.6" y="327.3" font-size="11.6" font-weight="bold" fill="#000">m)</text>
<text x="103" y="323.4" font-size="7.5" text-anchor="middle" dominant-baseline="central" fill="#222" font-weight="bold" stroke="#222" stroke-width="0.18">Performance Radar Chart</text>
<text x="104" y="331.2" font-size="7.6" text-anchor="middle" dominant-baseline="central" fill="#222" font-weight="bold" stroke="#222" stroke-width="0.18">(Normalized Metrics by Timepoint)</text>
<circle cx="104.2" cy="421.3" r="15.3" fill="none" stroke="#d4d4d4" stroke-width="0.55"/>
<circle cx="104.2" cy="421.3" r="30.6" fill="none" stroke="#d4d4d4" stroke-width="0.55"/>
<circle cx="104.2" cy="421.3" r="45.9" fill="none" stroke="#d4d4d4" stroke-width="0.55"/>
<circle cx="104.2" cy="421.3" r="61.2" fill="none" stroke="#d4d4d4" stroke-width="0.55"/>
<circle cx="104.2" cy="421.3" r="76.5" fill="none" stroke="#d4d4d4" stroke-width="0.55"/>
<line x1="104.2" y1="421.3" x2="180.7" y2="421.3" stroke="#d4d4d4" stroke-width="0.55"/>
<line x1="104.2" y1="421.3" x2="142.45" y2="355.05" stroke="#d4d4d4" stroke-width="0.55"/>
<line x1="104.2" y1="421.3" x2="65.95" y2="355.05" stroke="#d4d4d4" stroke-width="0.55"/>
<line x1="104.2" y1="421.3" x2="27.7" y2="421.3" stroke="#d4d4d4" stroke-width="0.55"/>
<line x1="104.2" y1="421.3" x2="65.95" y2="487.55" stroke="#d4d4d4" stroke-width="0.55"/>
<line x1="104.2" y1="421.3" x2="142.45" y2="487.55" stroke="#d4d4d4" stroke-width="0.55"/>
<polygon points="154.69,421.3 124.47,386.19 80.1,379.56 59.07,421.3 79.34,464.36 133.65,472.31" fill="#7eaa90" fill-opacity="0.1" stroke="none"/>
<polygon points="150.48,421.3 125.62,384.2 80.49,380.22 66.72,421.3 76.66,469 136.14,476.62" fill="#7eaa90" fill-opacity="0.1" stroke="none"/>
<polygon points="151.25,421.3 124.47,386.19 79.34,378.24 60.98,421.3 78.19,466.35 131.36,468.34" fill="#7eaa90" fill-opacity="0.1" stroke="none"/>
<polygon points="154.69,421.3 124.47,386.19 80.1,379.56 59.07,421.3 79.34,464.36 133.65,472.31" fill="none" stroke="#e57373" stroke-width="1.5" stroke-linejoin="round"/>
<circle cx="154.69" cy="421.3" r="2" fill="#e57373" stroke="none" stroke-width="0"/>
<circle cx="124.47" cy="386.19" r="2" fill="#e57373" stroke="none" stroke-width="0"/>
<circle cx="80.1" cy="379.56" r="2" fill="#e57373" stroke="none" stroke-width="0"/>
<circle cx="59.07" cy="421.3" r="2" fill="#e57373" stroke="none" stroke-width="0"/>
<circle cx="79.34" cy="464.36" r="2" fill="#e57373" stroke="none" stroke-width="0"/>
<circle cx="133.65" cy="472.31" r="2" fill="#e57373" stroke="none" stroke-width="0"/>
<polygon points="150.48,421.3 125.62,384.2 80.49,380.22 66.72,421.3 76.66,469 136.14,476.62" fill="none" stroke="#5b9bd8" stroke-width="1.5" stroke-linejoin="round"/>
<circle cx="150.48" cy="421.3" r="2" fill="#5b9bd8" stroke="none" stroke-width="0"/>
<circle cx="125.62" cy="384.2" r="2" fill="#5b9bd8" stroke="none" stroke-width="0"/>
<circle cx="80.49" cy="380.22" r="2" fill="#5b9bd8" stroke="none" stroke-width="0"/>
<circle cx="66.72" cy="421.3" r="2" fill="#5b9bd8" stroke="none" stroke-width="0"/>
<circle cx="76.66" cy="469" r="2" fill="#5b9bd8" stroke="none" stroke-width="0"/>
<circle cx="136.14" cy="476.62" r="2" fill="#5b9bd8" stroke="none" stroke-width="0"/>
<polygon points="151.25,421.3 124.47,386.19 79.34,378.24 60.98,421.3 78.19,466.35 131.36,468.34" fill="none" stroke="#90d07a" stroke-width="1.5" stroke-linejoin="round"/>
<circle cx="151.25" cy="421.3" r="2" fill="#90d07a" stroke="none" stroke-width="0"/>
<circle cx="124.47" cy="386.19" r="2" fill="#90d07a" stroke="none" stroke-width="0"/>
<circle cx="79.34" cy="378.24" r="2" fill="#90d07a" stroke="none" stroke-width="0"/>
<circle cx="60.98" cy="421.3" r="2" fill="#90d07a" stroke="none" stroke-width="0"/>
<circle cx="78.19" cy="466.35" r="2" fill="#90d07a" stroke="none" stroke-width="0"/>
<circle cx="131.36" cy="468.34" r="2" fill="#90d07a" stroke="none" stroke-width="0"/>
<text x="184" y="421.4" font-size="5.5" text-anchor="start" dominant-baseline="central" fill="#222">Dice</text>
<text x="146.2" y="348" font-size="5.5" text-anchor="middle" dominant-baseline="central" fill="#222">IoU</text>
<text x="61.5" y="347.6" font-size="5.6" text-anchor="middle" dominant-baseline="central" fill="#222">Precision</text>
<text x="18.8" y="421.4" font-size="5.8" text-anchor="middle" dominant-baseline="central" fill="#222">Sensitivity</text>
<text x="61" y="494.8" font-size="5.6" text-anchor="middle" dominant-baseline="central" fill="#222">HD95</text>
<text x="146.5" y="494.8" font-size="5.6" text-anchor="middle" dominant-baseline="central" fill="#222">ASD</text>
<text x="121" y="413.6" font-size="4.4" text-anchor="middle" dominant-baseline="central" fill="#333">0.2</text>
<text x="135.6" y="408" font-size="4.4" text-anchor="middle" dominant-baseline="central" fill="#333">0.4</text>
<text x="150" y="402.2" font-size="4.4" text-anchor="middle" dominant-baseline="central" fill="#333">0.6</text>
<text x="164.2" y="396.4" font-size="4.4" text-anchor="middle" dominant-baseline="central" fill="#333">0.8</text>
<text x="178.2" y="390.2" font-size="4.4" text-anchor="middle" dominant-baseline="central" fill="#333">1.0</text>
<rect x="199.6" y="332.6" width="24.8" height="23.4" fill="#fff" stroke="#d0d0d0" stroke-width="0.5" rx="1.2"/>
<line x1="201.2" y1="336.3" x2="212" y2="336.3" stroke="#e57373" stroke-width="1.5"/>
<circle cx="206.6" cy="336.3" r="2.2" fill="#e57373" stroke="none" stroke-width="0"/>
<text x="215.8" y="336.5" font-size="5.8" text-anchor="start" dominant-baseline="central" fill="#222">T0</text>
<line x1="201.2" y1="344.1" x2="212" y2="344.1" stroke="#5b9bd8" stroke-width="1.5"/>
<circle cx="206.6" cy="344.1" r="2.2" fill="#5b9bd8" stroke="none" stroke-width="0"/>
<text x="215.8" y="344.3" font-size="5.8" text-anchor="start" dominant-baseline="central" fill="#222">T1</text>
<line x1="201.2" y1="351.9" x2="212" y2="351.9" stroke="#90d07a" stroke-width="1.5"/>
<circle cx="206.6" cy="351.9" r="2.2" fill="#90d07a" stroke="none" stroke-width="0"/>
<text x="215.8" y="352.1" font-size="5.8" text-anchor="start" dominant-baseline="central" fill="#222">T2</text>
<text x="241.8" y="327.3" font-size="11.6" font-weight="bold" fill="#000">n)</text>
<text x="359.7" y="324.4" font-size="7.3" text-anchor="middle" dominant-baseline="central" fill="#222" font-weight="bold" stroke="#222" stroke-width="0.18">Distribution with KDE</text>
<line x1="279" y1="330.4" x2="279" y2="493.2" stroke="#ebebeb" stroke-width="0.6"/>
<line x1="299.75" y1="330.4" x2="299.75" y2="493.2" stroke="#ebebeb" stroke-width="0.6"/>
<line x1="320.5" y1="330.4" x2="320.5" y2="493.2" stroke="#ebebeb" stroke-width="0.6"/>
<line x1="341.25" y1="330.4" x2="341.25" y2="493.2" stroke="#ebebeb" stroke-width="0.6"/>
<line x1="362" y1="330.4" x2="362" y2="493.2" stroke="#ebebeb" stroke-width="0.6"/>
<line x1="382.75" y1="330.4" x2="382.75" y2="493.2" stroke="#ebebeb" stroke-width="0.6"/>
<line x1="403.5" y1="330.4" x2="403.5" y2="493.2" stroke="#ebebeb" stroke-width="0.6"/>
<line x1="424.25" y1="330.4" x2="424.25" y2="493.2" stroke="#ebebeb" stroke-width="0.6"/>
<line x1="445" y1="330.4" x2="445" y2="493.2" stroke="#ebebeb" stroke-width="0.6"/>
<line x1="270.6" y1="461.85" x2="453.7" y2="461.85" stroke="#ebebeb" stroke-width="0.6"/>
<line x1="270.6" y1="430.5" x2="453.7" y2="430.5" stroke="#ebebeb" stroke-width="0.6"/>
<line x1="270.6" y1="399.15" x2="453.7" y2="399.15" stroke="#ebebeb" stroke-width="0.6"/>
<line x1="270.6" y1="367.8" x2="453.7" y2="367.8" stroke="#ebebeb" stroke-width="0.6"/>
<line x1="270.6" y1="336.45" x2="453.7" y2="336.45" stroke="#ebebeb" stroke-width="0.6"/>
<rect x="270.6" y="330.4" width="183.1" height="162.8" fill="none" stroke="#d9d9d9" stroke-width="0.7"/>
<text x="279" y="499.6" font-size="5.4" text-anchor="middle" dominant-baseline="central" fill="#333">89</text>
<text x="299.75" y="499.6" font-size="5.4" text-anchor="middle" dominant-baseline="central" fill="#333">90</text>
<text x="320.5" y="499.6" font-size="5.4" text-anchor="middle" dominant-baseline="central" fill="#333">91</text>
<text x="341.25" y="499.6" font-size="5.4" text-anchor="middle" dominant-baseline="central" fill="#333">92</text>
<text x="362" y="499.6" font-size="5.4" text-anchor="middle" dominant-baseline="central" fill="#333">93</text>
<text x="382.75" y="499.6" font-size="5.4" text-anchor="middle" dominant-baseline="central" fill="#333">94</text>
<text x="403.5" y="499.6" font-size="5.4" text-anchor="middle" dominant-baseline="central" fill="#333">95</text>
<text x="424.25" y="499.6" font-size="5.4" text-anchor="middle" dominant-baseline="central" fill="#333">96</text>
<text x="445" y="499.6" font-size="5.4" text-anchor="middle" dominant-baseline="central" fill="#333">97</text>
<text x="266.6" y="493.2" font-size="4.7" text-anchor="end" dominant-baseline="central" fill="#333">0.0</text>
<text x="266.6" y="461.85" font-size="4.7" text-anchor="end" dominant-baseline="central" fill="#333">0.1</text>
<text x="266.6" y="430.5" font-size="4.7" text-anchor="end" dominant-baseline="central" fill="#333">0.2</text>
<text x="266.6" y="399.15" font-size="4.7" text-anchor="end" dominant-baseline="central" fill="#333">0.3</text>
<text x="266.6" y="367.8" font-size="4.7" text-anchor="end" dominant-baseline="central" fill="#333">0.4</text>
<text x="266.6" y="336.45" font-size="4.7" text-anchor="end" dominant-baseline="central" fill="#333">0.5</text>
<text x="362" y="507.2" font-size="8" text-anchor="middle" dominant-baseline="central" fill="#222" font-weight="bold" stroke="#222" stroke-width="0.18">Dice Coefficient (%)</text>
<text x="253.6" y="412.2" font-size="7.9" text-anchor="middle" dominant-baseline="central" fill="#222" font-weight="bold" stroke="#222" stroke-width="0.18" transform="rotate(-90 253.6 412.2)">Density</text>
<rect x="340.6" y="415.7" width="9.9" height="77.5" fill="#e8cca1" fill-opacity="0.55" stroke="#444" stroke-opacity="0.55" stroke-width="0.5"/>
<rect x="350.5" y="338.21" width="9.9" height="154.99" fill="#e8cca1" fill-opacity="0.55" stroke="#444" stroke-opacity="0.55" stroke-width="0.5"/>
<rect x="360.4" y="415.7" width="9.9" height="77.5" fill="#e8cca1" fill-opacity="0.55" stroke="#444" stroke-opacity="0.55" stroke-width="0.5"/>
<rect x="370.3" y="376.95" width="9.9" height="116.25" fill="#e8cca1" fill-opacity="0.55" stroke="#444" stroke-opacity="0.55" stroke-width="0.5"/>
<rect x="380.2" y="338.21" width="9.9" height="154.99" fill="#e8cca1" fill-opacity="0.55" stroke="#444" stroke-opacity="0.55" stroke-width="0.5"/>
<rect x="409.9" y="415.7" width="9.9" height="77.5" fill="#e8cca1" fill-opacity="0.55" stroke="#444" stroke-opacity="0.55" stroke-width="0.5"/>
<rect x="313.6" y="413.07" width="14.33" height="80.13" fill="#a8ceeb" fill-opacity="0.55" stroke="#444" stroke-opacity="0.55" stroke-width="0.5"/>
<rect x="327.93" y="439.78" width="14.33" height="53.42" fill="#a8ceeb" fill-opacity="0.55" stroke="#444" stroke-opacity="0.55" stroke-width="0.5"/>
<rect x="342.26" y="466.49" width="14.33" height="26.71" fill="#a8ceeb" fill-opacity="0.55" stroke="#444" stroke-opacity="0.55" stroke-width="0.5"/>
<rect x="356.59" y="359.65" width="14.33" height="133.55" fill="#a8ceeb" fill-opacity="0.55" stroke="#444" stroke-opacity="0.55" stroke-width="0.5"/>
<rect x="370.92" y="439.78" width="14.33" height="53.42" fill="#a8ceeb" fill-opacity="0.55" stroke="#444" stroke-opacity="0.55" stroke-width="0.5"/>
<rect x="385.25" y="413.07" width="14.33" height="80.13" fill="#a8ceeb" fill-opacity="0.55" stroke="#444" stroke-opacity="0.55" stroke-width="0.5"/>
<rect x="413.91" y="466.49" width="14.33" height="26.71" fill="#a8ceeb" fill-opacity="0.55" stroke="#444" stroke-opacity="0.55" stroke-width="0.5"/>
<rect x="320.8" y="365.67" width="12" height="127.53" fill="#b899cc" fill-opacity="0.55" stroke="#444" stroke-opacity="0.55" stroke-width="0.5"/>
<rect x="332.8" y="429.43" width="12" height="63.77" fill="#b899cc" fill-opacity="0.55" stroke="#444" stroke-opacity="0.55" stroke-width="0.5"/>
<rect x="356.8" y="365.67" width="12" height="127.53" fill="#b899cc" fill-opacity="0.55" stroke="#444" stroke-opacity="0.55" stroke-width="0.5"/>
<rect x="368.8" y="429.43" width="12" height="63.77" fill="#b899cc" fill-opacity="0.55" stroke="#444" stroke-opacity="0.55" stroke-width="0.5"/>
<rect x="380.8" y="397.55" width="12" height="95.65" fill="#b899cc" fill-opacity="0.55" stroke="#444" stroke-opacity="0.55" stroke-width="0.5"/>
<rect x="392.8" y="461.32" width="12" height="31.88" fill="#b899cc" fill-opacity="0.55" stroke="#444" stroke-opacity="0.55" stroke-width="0.5"/>
<rect x="404.8" y="461.32" width="12" height="31.88" fill="#b899cc" fill-opacity="0.55" stroke="#444" stroke-opacity="0.55" stroke-width="0.5"/>
<path d="M279,493.2 C280.73,492.99 285.92,492.78 289.38,491.95 C292.83,491.11 296.29,490.33 299.75,488.18 C303.21,486.04 306.67,483.22 310.12,479.09 C313.58,474.96 317.04,468.54 320.5,463.42 C323.96,458.3 327.42,452.92 330.88,448.37 C334.33,443.82 337.79,440.58 341.25,436.14 C344.71,431.7 348.17,426.32 351.62,421.72 C355.08,417.12 359.23,411.27 362,408.55 C364.77,405.84 366.15,405.68 368.22,405.42 C370.3,405.16 372.03,405.16 374.45,406.99 C376.87,408.82 379.64,411.17 382.75,416.39 C385.86,421.62 389.67,431.18 393.12,438.34 C396.58,445.5 400.04,454.06 403.5,459.34 C406.96,464.62 410.42,467.07 413.88,470 C417.33,472.93 420.79,474.6 424.25,476.9 C427.71,479.2 431.17,481.6 434.62,483.8 C438.08,485.99 443.27,489.02 445,490.06" fill="none" stroke="#e02424" stroke-width="1.5"/>
<line x1="366.15" y1="330.4" x2="366.15" y2="493.2" stroke="#2e8b3e" stroke-width="1" stroke-dasharray="3,2"/>
<rect x="403.6" y="332.4" width="48" height="30.6" fill="#fff" stroke="#d0d0d0" stroke-width="0.5" rx="1.2" fill-opacity="0.85"/>
<rect x="405" y="334.45" width="10.6" height="3.9" fill="#e8cca1" fill-opacity="0.55" stroke="#444" stroke-opacity="0.55" stroke-width="0.5"/>
<text x="419.6" y="336.4" font-size="5.2" text-anchor="start" dominant-baseline="central" fill="#222">T0</text>
<rect x="405" y="341.95" width="10.6" height="3.9" fill="#a8ceeb" fill-opacity="0.55" stroke="#444" stroke-opacity="0.55" stroke-width="0.5"/>
<text x="419.6" y="343.9" font-size="5.2" text-anchor="start" dominant-baseline="central" fill="#222">T1</text>
<rect x="405" y="349.45" width="10.6" height="3.9" fill="#b899cc" fill-opacity="0.55" stroke="#444" stroke-opacity="0.55" stroke-width="0.5"/>
<text x="419.6" y="351.4" font-size="5.2" text-anchor="start" dominant-baseline="central" fill="#222">T2</text>
<line x1="405" y1="359" x2="415.6" y2="359" stroke="#e02424" stroke-width="1.5"/>
<text x="419.6" y="359" font-size="5.2" text-anchor="start" dominant-baseline="central" fill="#222">Overall KDE</text>
<text x="464.8" y="327.6" font-size="11.6" font-weight="bold" fill="#000">o)</text>
<text x="585.8" y="325" font-size="7.3" text-anchor="middle" dominant-baseline="central" fill="#222" font-weight="bold" stroke="#222" stroke-width="0.18">Per-Patient Performance</text>
<line x1="520.42" y1="330.4" x2="520.42" y2="493.4" stroke="#ebebeb" stroke-width="0.6"/>
<line x1="543.45" y1="330.4" x2="543.45" y2="493.4" stroke="#ebebeb" stroke-width="0.6"/>
<line x1="566.48" y1="330.4" x2="566.48" y2="493.4" stroke="#ebebeb" stroke-width="0.6"/>
<line x1="589.5" y1="330.4" x2="589.5" y2="493.4" stroke="#ebebeb" stroke-width="0.6"/>
<line x1="612.52" y1="330.4" x2="612.52" y2="493.4" stroke="#ebebeb" stroke-width="0.6"/>
<line x1="635.55" y1="330.4" x2="635.55" y2="493.4" stroke="#ebebeb" stroke-width="0.6"/>
<line x1="658.58" y1="330.4" x2="658.58" y2="493.4" stroke="#ebebeb" stroke-width="0.6"/>
<line x1="497.4" y1="341" x2="681.6" y2="341" stroke="#ebebeb" stroke-width="0.6"/>
<line x1="497.4" y1="349.82" x2="681.6" y2="349.82" stroke="#ebebeb" stroke-width="0.6"/>
<line x1="497.4" y1="358.65" x2="681.6" y2="358.65" stroke="#ebebeb" stroke-width="0.6"/>
<line x1="497.4" y1="367.48" x2="681.6" y2="367.48" stroke="#ebebeb" stroke-width="0.6"/>
<line x1="497.4" y1="376.3" x2="681.6" y2="376.3" stroke="#ebebeb" stroke-width="0.6"/>
<line x1="497.4" y1="385.12" x2="681.6" y2="385.12" stroke="#ebebeb" stroke-width="0.6"/>
<line x1="497.4" y1="393.95" x2="681.6" y2="393.95" stroke="#ebebeb" stroke-width="0.6"/>
<line x1="497.4" y1="402.77" x2="681.6" y2="402.77" stroke="#ebebeb" stroke-width="0.6"/>
<line x1="497.4" y1="411.6" x2="681.6" y2="411.6" stroke="#ebebeb" stroke-width="0.6"/>
<line x1="497.4" y1="420.43" x2="681.6" y2="420.43" stroke="#ebebeb" stroke-width="0.6"/>
<line x1="497.4" y1="429.25" x2="681.6" y2="429.25" stroke="#ebebeb" stroke-width="0.6"/>
<line x1="497.4" y1="438.07" x2="681.6" y2="438.07" stroke="#ebebeb" stroke-width="0.6"/>
<line x1="497.4" y1="446.9" x2="681.6" y2="446.9" stroke="#ebebeb" stroke-width="0.6"/>
<line x1="497.4" y1="455.73" x2="681.6" y2="455.73" stroke="#ebebeb" stroke-width="0.6"/>
<line x1="497.4" y1="464.55" x2="681.6" y2="464.55" stroke="#ebebeb" stroke-width="0.6"/>
<line x1="497.4" y1="473.38" x2="681.6" y2="473.38" stroke="#ebebeb" stroke-width="0.6"/>
<line x1="497.4" y1="482.2" x2="681.6" y2="482.2" stroke="#ebebeb" stroke-width="0.6"/>
<line x1="497.4" y1="345.1" x2="621.5" y2="345.1" stroke="#9a9a9a" stroke-width="0.9"/>
<rect x="497.4" y="337.35" width="124.1" height="7.3" fill="#8fcee0" stroke="#2f3f44" stroke-width="0.75"/>
<text x="494" y="341.2" font-size="4.4" text-anchor="end" dominant-baseline="central" fill="#333">P03</text>
<line x1="497.4" y1="353.93" x2="614.6" y2="353.93" stroke="#9a9a9a" stroke-width="0.9"/>
<rect x="497.4" y="346.18" width="117.2" height="7.3" fill="#8fcee0" stroke="#2f3f44" stroke-width="0.75"/>
<text x="494" y="350.02" font-size="4.4" text-anchor="end" dominant-baseline="central" fill="#333">P11</text>
<line x1="497.4" y1="362.75" x2="613.45" y2="362.75" stroke="#9a9a9a" stroke-width="0.9"/>
<rect x="497.4" y="355" width="116.05" height="7.3" fill="#8fcee0" stroke="#2f3f44" stroke-width="0.75"/>
<text x="494" y="358.85" font-size="4.4" text-anchor="end" dominant-baseline="central" fill="#333">P14</text>
<line x1="497.4" y1="371.58" x2="612.52" y2="371.58" stroke="#9a9a9a" stroke-width="0.9"/>
<rect x="497.4" y="363.83" width="115.12" height="7.3" fill="#8fcee0" stroke="#2f3f44" stroke-width="0.75"/>
<text x="494" y="367.68" font-size="4.4" text-anchor="end" dominant-baseline="central" fill="#333">P02</text>
<line x1="497.4" y1="380.4" x2="612.52" y2="380.4" stroke="#9a9a9a" stroke-width="0.9"/>
<rect x="497.4" y="372.65" width="115.12" height="7.3" fill="#8fcee0" stroke="#2f3f44" stroke-width="0.75"/>
<text x="494" y="376.5" font-size="4.4" text-anchor="end" dominant-baseline="central" fill="#333">P01</text>
<line x1="497.4" y1="389.23" x2="599.63" y2="389.23" stroke="#9a9a9a" stroke-width="0.9"/>
<rect x="497.4" y="381.48" width="102.23" height="7.3" fill="#8fcee0" stroke="#2f3f44" stroke-width="0.75"/>
<text x="494" y="385.32" font-size="4.4" text-anchor="end" dominant-baseline="central" fill="#333">P16</text>
<line x1="497.4" y1="398.05" x2="596.41" y2="398.05" stroke="#9a9a9a" stroke-width="0.9"/>
<rect x="497.4" y="390.3" width="99.01" height="7.3" fill="#8fcee0" stroke="#2f3f44" stroke-width="0.75"/>
<text x="494" y="394.15" font-size="4.4" text-anchor="end" dominant-baseline="central" fill="#333">P04</text>
<line x1="497.4" y1="406.88" x2="595.49" y2="406.88" stroke="#9a9a9a" stroke-width="0.9"/>
<rect x="497.4" y="399.12" width="98.09" height="7.3" fill="#8fcee0" stroke="#2f3f44" stroke-width="0.75"/>
<text x="494" y="402.97" font-size="4.4" text-anchor="end" dominant-baseline="central" fill="#333">P10</text>
<line x1="497.4" y1="415.7" x2="591.34" y2="415.7" stroke="#9a9a9a" stroke-width="0.9"/>
<rect x="497.4" y="407.95" width="93.94" height="7.3" fill="#8fcee0" stroke="#2f3f44" stroke-width="0.75"/>
<text x="494" y="411.8" font-size="4.4" text-anchor="end" dominant-baseline="central" fill="#333">P07</text>
<line x1="497.4" y1="424.53" x2="589.04" y2="424.53" stroke="#9a9a9a" stroke-width="0.9"/>
<rect x="497.4" y="416.78" width="91.64" height="7.3" fill="#8fcee0" stroke="#2f3f44" stroke-width="0.75"/>
<text x="494" y="420.62" font-size="4.4" text-anchor="end" dominant-baseline="central" fill="#333">P17</text>
<line x1="497.4" y1="433.35" x2="587.2" y2="433.35" stroke="#9a9a9a" stroke-width="0.9"/>
<rect x="497.4" y="425.6" width="89.8" height="7.3" fill="#8fcee0" stroke="#2f3f44" stroke-width="0.75"/>
<text x="494" y="429.45" font-size="4.4" text-anchor="end" dominant-baseline="central" fill="#333">P06</text>
<line x1="497.4" y1="442.18" x2="584.66" y2="442.18" stroke="#9a9a9a" stroke-width="0.9"/>
<rect x="497.4" y="434.43" width="87.26" height="7.3" fill="#8fcee0" stroke="#2f3f44" stroke-width="0.75"/>
<text x="494" y="438.27" font-size="4.4" text-anchor="end" dominant-baseline="central" fill="#333">P12</text>
<line x1="497.4" y1="451" x2="583.28" y2="451" stroke="#9a9a9a" stroke-width="0.9"/>
<rect x="497.4" y="443.25" width="85.88" height="7.3" fill="#8fcee0" stroke="#2f3f44" stroke-width="0.75"/>
<text x="494" y="447.1" font-size="4.4" text-anchor="end" dominant-baseline="central" fill="#333">P08</text>
<line x1="497.4" y1="459.83" x2="583.28" y2="459.83" stroke="#9a9a9a" stroke-width="0.9"/>
<rect x="497.4" y="452.08" width="85.88" height="7.3" fill="#8fcee0" stroke="#2f3f44" stroke-width="0.75"/>
<text x="494" y="455.93" font-size="4.4" text-anchor="end" dominant-baseline="central" fill="#333">P09</text>
<line x1="497.4" y1="468.65" x2="580.29" y2="468.65" stroke="#9a9a9a" stroke-width="0.9"/>
<rect x="497.4" y="460.9" width="82.89" height="7.3" fill="#8fcee0" stroke="#2f3f44" stroke-width="0.75"/>
<text x="494" y="464.75" font-size="4.4" text-anchor="end" dominant-baseline="central" fill="#333">P15</text>
<line x1="497.4" y1="477.48" x2="567.4" y2="477.48" stroke="#9a9a9a" stroke-width="0.9"/>
<rect x="497.4" y="469.73" width="70" height="7.3" fill="#8fcee0" stroke="#2f3f44" stroke-width="0.75"/>
<text x="494" y="473.57" font-size="4.4" text-anchor="end" dominant-baseline="central" fill="#333">P13</text>
<line x1="497.4" y1="486.3" x2="563.48" y2="486.3" stroke="#9a9a9a" stroke-width="0.9"/>
<rect x="497.4" y="478.55" width="66.08" height="7.3" fill="#8fcee0" stroke="#2f3f44" stroke-width="0.75"/>
<text x="494" y="482.4" font-size="4.4" text-anchor="end" dominant-baseline="central" fill="#333">P05</text>
<line x1="593.5" y1="341.5" x2="649.5" y2="341.5" stroke="#8b1c1c" stroke-width="1" stroke-opacity="0.75"/>
<line x1="579.9" y1="349.5" x2="649.3" y2="349.5" stroke="#8b1c1c" stroke-width="1" stroke-opacity="0.45"/>
<line x1="604.95" y1="358.5" x2="621.95" y2="358.5" stroke="#8b1c1c" stroke-width="1" stroke-opacity="0.45"/>
<line x1="585.02" y1="367.5" x2="640.02" y2="367.5" stroke="#8b1c1c" stroke-width="1" stroke-opacity="0.75"/>
<line x1="601.32" y1="376.5" x2="623.73" y2="376.5" stroke="#8b1c1c" stroke-width="1" stroke-opacity="0.75"/>
<line x1="573.83" y1="385.5" x2="625.43" y2="385.5" stroke="#8b1c1c" stroke-width="1" stroke-opacity="0.75"/>
<line x1="580.71" y1="393.5" x2="612.11" y2="393.5" stroke="#8b1c1c" stroke-width="1" stroke-opacity="0.45"/>
<line x1="581.99" y1="402.5" x2="608.99" y2="402.5" stroke="#8b1c1c" stroke-width="1" stroke-opacity="0.45"/>
<line x1="549.84" y1="411.5" x2="632.84" y2="411.5" stroke="#8b1c1c" stroke-width="1" stroke-opacity="0.75"/>
<line x1="556.24" y1="420.5" x2="621.84" y2="420.5" stroke="#8b1c1c" stroke-width="1" stroke-opacity="0.75"/>
<line x1="568.9" y1="429.5" x2="605.5" y2="429.5" stroke="#8b1c1c" stroke-width="1" stroke-opacity="0.75"/>
<line x1="554.06" y1="438.5" x2="615.26" y2="438.5" stroke="#8b1c1c" stroke-width="1" stroke-opacity="0.75"/>
<line x1="561.78" y1="446.5" x2="604.78" y2="446.5" stroke="#8b1c1c" stroke-width="1" stroke-opacity="0.45"/>
<line x1="566.28" y1="455.5" x2="600.28" y2="455.5" stroke="#8b1c1c" stroke-width="1" stroke-opacity="0.45"/>
<line x1="559.89" y1="464.5" x2="600.69" y2="464.5" stroke="#8b1c1c" stroke-width="1" stroke-opacity="0.75"/>
<line x1="537.2" y1="473.5" x2="597.6" y2="473.5" stroke="#8b1c1c" stroke-width="1" stroke-opacity="0.75"/>
<line x1="530.88" y1="482.5" x2="596.08" y2="482.5" stroke="#8b1c1c" stroke-width="1" stroke-opacity="0.75"/>
<rect x="497.4" y="330.4" width="184.2" height="163" fill="none" stroke="#d9d9d9" stroke-width="0.7"/>
<line x1="593.87" y1="330.4" x2="593.87" y2="493.4" stroke="#3c9a48" stroke-width="1.6" stroke-dasharray="3.5,2"/>
<text x="497.4" y="499.6" font-size="5.4" text-anchor="middle" dominant-baseline="central" fill="#333">89</text>
<text x="520.42" y="499.6" font-size="5.4" text-anchor="middle" dominant-baseline="central" fill="#333">90</text>
<text x="543.45" y="499.6" font-size="5.4" text-anchor="middle" dominant-baseline="central" fill="#333">91</text>
<text x="566.48" y="499.6" font-size="5.4" text-anchor="middle" dominant-baseline="central" fill="#333">92</text>
<text x="589.5" y="499.6" font-size="5.4" text-anchor="middle" dominant-baseline="central" fill="#333">93</text>
<text x="612.52" y="499.6" font-size="5.4" text-anchor="middle" dominant-baseline="central" fill="#333">94</text>
<text x="635.55" y="499.6" font-size="5.4" text-anchor="middle" dominant-baseline="central" fill="#333">95</text>
<text x="658.58" y="499.6" font-size="5.4" text-anchor="middle" dominant-baseline="central" fill="#333">96</text>
<text x="681.6" y="499.6" font-size="5.4" text-anchor="middle" dominant-baseline="central" fill="#333">97</text>
<text x="589.5" y="507.4" font-size="8" text-anchor="middle" dominant-baseline="central" fill="#222" font-weight="bold" stroke="#222" stroke-width="0.18">Mean Dice (%)</text>
<text x="480.4" y="411.8" font-size="8.1" text-anchor="middle" dominant-baseline="central" fill="#222" font-weight="bold" stroke="#222" stroke-width="0.18" transform="rotate(-90 480.4 411.8)">Patient ID</text>
<text x="1.4" y="527.8" font-size="11.6" font-weight="bold" fill="#000">p)</text>
<text x="133.5" y="526.4" font-size="6.9" text-anchor="middle" dominant-baseline="central" fill="#222" font-weight="bold" stroke="#222" stroke-width="0.18">Temporal Consistency</text>
<line x1="21" y1="676.67" x2="256.2" y2="676.67" stroke="#f0f0f0" stroke-width="0.6"/>
<line x1="21" y1="655.95" x2="256.2" y2="655.95" stroke="#f0f0f0" stroke-width="0.6"/>
<line x1="21" y1="635.23" x2="256.2" y2="635.23" stroke="#f0f0f0" stroke-width="0.6"/>
<line x1="21" y1="614.5" x2="256.2" y2="614.5" stroke="#f0f0f0" stroke-width="0.6"/>
<line x1="21" y1="593.77" x2="256.2" y2="593.77" stroke="#f0f0f0" stroke-width="0.6"/>
<line x1="21" y1="573.05" x2="256.2" y2="573.05" stroke="#f0f0f0" stroke-width="0.6"/>
<line x1="21" y1="552.33" x2="256.2" y2="552.33" stroke="#f0f0f0" stroke-width="0.6"/>
<line x1="32.4" y1="531.6" x2="32.4" y2="697.4" stroke="#f0f0f0" stroke-width="0.6"/>
<line x1="139.2" y1="531.6" x2="139.2" y2="697.4" stroke="#f0f0f0" stroke-width="0.6"/>
<line x1="245.6" y1="531.6" x2="245.6" y2="697.4" stroke="#f0f0f0" stroke-width="0.6"/>
<rect x="21" y="531.6" width="235.2" height="165.8" fill="none" stroke="#d9d9d9" stroke-width="0.7"/>
<text x="18.2" y="697.4" font-size="4.8" text-anchor="end" dominant-baseline="central" fill="#333">89</text>
<text x="18.2" y="676.67" font-size="4.8" text-anchor="end" dominant-baseline="central" fill="#333">90</text>
<text x="18.2" y="655.95" font-size="4.8" text-anchor="end" dominant-baseline="central" fill="#333">91</text>
<text x="18.2" y="635.23" font-size="4.8" text-anchor="end" dominant-baseline="central" fill="#333">92</text>
<text x="18.2" y="614.5" font-size="4.8" text-anchor="end" dominant-baseline="central" fill="#333">93</text>
<text x="18.2" y="593.77" font-size="4.8" text-anchor="end" dominant-baseline="central" fill="#333">94</text>
<text x="18.2" y="573.05" font-size="4.8" text-anchor="end" dominant-baseline="central" fill="#333">95</text>
<text x="18.2" y="552.33" font-size="4.8" text-anchor="end" dominant-baseline="central" fill="#333">96</text>
<text x="18.2" y="531.6" font-size="4.8" text-anchor="end" dominant-baseline="central" fill="#333">97</text>
<text x="32.4" y="704" font-size="6" text-anchor="middle" dominant-baseline="central" fill="#222">T0</text>
<text x="139.2" y="704" font-size="6" text-anchor="middle" dominant-baseline="central" fill="#222">T1</text>
<text x="245.6" y="704" font-size="6" text-anchor="middle" dominant-baseline="central" fill="#222">T2</text>
<text x="7" y="621" font-size="6" text-anchor="middle" dominant-baseline="central" fill="#222" font-weight="bold" stroke="#222" stroke-width="0.18" transform="rotate(-90 7 621)">Dice Coefficient (%)</text>
<polyline points="32.4,589.63 139.2,608.7 245.6,583" fill="none" stroke="#1f77b4" stroke-width="0.7" stroke-opacity="0.6"/>
<circle cx="32.4" cy="589.63" r="1" fill="#1f77b4" stroke="none" stroke-width="0" fill-opacity="0.6"/>
<circle cx="139.2" cy="608.7" r="1" fill="#1f77b4" stroke="none" stroke-width="0" fill-opacity="0.6"/>
<circle cx="245.6" cy="583" r="1" fill="#1f77b4" stroke="none" stroke-width="0" fill-opacity="0.6"/>
<polyline points="32.4,558.75 139.2,608.28 245.6,614.29" fill="none" stroke="#aec7e8" stroke-width="0.7" stroke-opacity="0.6"/>
<circle cx="32.4" cy="558.75" r="1" fill="#aec7e8" stroke="none" stroke-width="0" fill-opacity="0.6"/>
<circle cx="139.2" cy="608.28" r="1" fill="#aec7e8" stroke="none" stroke-width="0" fill-opacity="0.6"/>
<circle cx="245.6" cy="614.29" r="1" fill="#aec7e8" stroke="none" stroke-width="0" fill-opacity="0.6"/>
<polyline points="32.4,557.3 139.2,580.3 245.6,619.47" fill="none" stroke="#ff7f0e" stroke-width="0.7" stroke-opacity="0.6"/>
<circle cx="32.4" cy="557.3" r="1" fill="#ff7f0e" stroke="none" stroke-width="0" fill-opacity="0.6"/>
<circle cx="139.2" cy="580.3" r="1" fill="#ff7f0e" stroke="none" stroke-width="0" fill-opacity="0.6"/>
<circle cx="245.6" cy="619.47" r="1" fill="#ff7f0e" stroke="none" stroke-width="0" fill-opacity="0.6"/>
<polyline points="32.4,588.8 139.2,616.57 245.6,619.47" fill="none" stroke="#ffbb78" stroke-width="0.7" stroke-opacity="0.6"/>
<circle cx="32.4" cy="588.8" r="1" fill="#ffbb78" stroke="none" stroke-width="0" fill-opacity="0.6"/>
<circle cx="139.2" cy="616.57" r="1" fill="#ffbb78" stroke="none" stroke-width="0" fill-opacity="0.6"/>
<circle cx="245.6" cy="619.47" r="1" fill="#ffbb78" stroke="none" stroke-width="0" fill-opacity="0.6"/>
<polyline points="32.4,597.92 139.2,661.55 245.6,655.95" fill="none" stroke="#98df8a" stroke-width="0.7" stroke-opacity="0.6"/>
<circle cx="32.4" cy="597.92" r="1" fill="#98df8a" stroke="none" stroke-width="0" fill-opacity="0.6"/>
<circle cx="139.2" cy="661.55" r="1" fill="#98df8a" stroke="none" stroke-width="0" fill-opacity="0.6"/>
<circle cx="245.6" cy="655.95" r="1" fill="#98df8a" stroke="none" stroke-width="0" fill-opacity="0.6"/>
<polyline points="32.4,621.13 139.2,634.4 245.6,594.19" fill="none" stroke="#d62728" stroke-width="0.7" stroke-opacity="0.6"/>
<circle cx="32.4" cy="621.13" r="1" fill="#d62728" stroke="none" stroke-width="0" fill-opacity="0.6"/>
<circle cx="139.2" cy="634.4" r="1" fill="#d62728" stroke="none" stroke-width="0" fill-opacity="0.6"/>
<circle cx="245.6" cy="594.19" r="1" fill="#d62728" stroke="none" stroke-width="0" fill-opacity="0.6"/>
<polyline points="32.4,631.49 139.2,646.21 245.6,560.82" fill="none" stroke="#ff9896" stroke-width="0.7" stroke-opacity="0.6"/>
<circle cx="32.4" cy="631.49" r="1" fill="#ff9896" stroke="none" stroke-width="0" fill-opacity="0.6"/>
<circle cx="139.2" cy="646.21" r="1" fill="#ff9896" stroke="none" stroke-width="0" fill-opacity="0.6"/>
<circle cx="245.6" cy="560.82" r="1" fill="#ff9896" stroke="none" stroke-width="0" fill-opacity="0.6"/>
<polyline points="32.4,610.56 139.2,603.72 245.6,646" fill="none" stroke="#9467bd" stroke-width="0.7" stroke-opacity="0.6"/>
<circle cx="32.4" cy="610.56" r="1" fill="#9467bd" stroke="none" stroke-width="0" fill-opacity="0.6"/>
<circle cx="139.2" cy="603.72" r="1" fill="#9467bd" stroke="none" stroke-width="0" fill-opacity="0.6"/>
<circle cx="245.6" cy="646" r="1" fill="#9467bd" stroke="none" stroke-width="0" fill-opacity="0.6"/>
<polyline points="32.4,620.51 139.2,601.24 245.6,638.54" fill="none" stroke="#8c564b" stroke-width="0.7" stroke-opacity="0.6"/>
<circle cx="32.4" cy="620.51" r="1" fill="#8c564b" stroke="none" stroke-width="0" fill-opacity="0.6"/>
<circle cx="139.2" cy="601.24" r="1" fill="#8c564b" stroke="none" stroke-width="0" fill-opacity="0.6"/>
<circle cx="245.6" cy="638.54" r="1" fill="#8c564b" stroke="none" stroke-width="0" fill-opacity="0.6"/>
<polyline points="32.4,592.95 139.2,621.96 245.6,612.43" fill="none" stroke="#c49c94" stroke-width="0.7" stroke-opacity="0.6"/>
<circle cx="32.4" cy="592.95" r="1" fill="#c49c94" stroke="none" stroke-width="0" fill-opacity="0.6"/>
<circle cx="139.2" cy="621.96" r="1" fill="#c49c94" stroke="none" stroke-width="0" fill-opacity="0.6"/>
<circle cx="245.6" cy="612.43" r="1" fill="#c49c94" stroke="none" stroke-width="0" fill-opacity="0.6"/>
<polyline points="32.4,620.72 139.2,548.8 245.6,606.21" fill="none" stroke="#e377c2" stroke-width="0.7" stroke-opacity="0.6"/>
<circle cx="32.4" cy="620.72" r="1" fill="#e377c2" stroke="none" stroke-width="0" fill-opacity="0.6"/>
<circle cx="139.2" cy="548.8" r="1" fill="#e377c2" stroke="none" stroke-width="0" fill-opacity="0.6"/>
<circle cx="245.6" cy="606.21" r="1" fill="#e377c2" stroke="none" stroke-width="0" fill-opacity="0.6"/>
<polyline points="32.4,635.85 139.2,579.68 245.6,641.03" fill="none" stroke="#f7b6d2" stroke-width="0.7" stroke-opacity="0.6"/>
<circle cx="32.4" cy="635.85" r="1" fill="#f7b6d2" stroke="none" stroke-width="0" fill-opacity="0.6"/>
<circle cx="139.2" cy="579.68" r="1" fill="#f7b6d2" stroke="none" stroke-width="0" fill-opacity="0.6"/>
<circle cx="245.6" cy="641.03" r="1" fill="#f7b6d2" stroke="none" stroke-width="0" fill-opacity="0.6"/>
<polyline points="32.4,596.88 139.2,659.68 245.6,645.59" fill="none" stroke="#c7c7c7" stroke-width="0.7" stroke-opacity="0.6"/>
<circle cx="32.4" cy="596.88" r="1" fill="#c7c7c7" stroke="none" stroke-width="0" fill-opacity="0.6"/>
<circle cx="139.2" cy="659.68" r="1" fill="#c7c7c7" stroke="none" stroke-width="0" fill-opacity="0.6"/>
<circle cx="245.6" cy="645.59" r="1" fill="#c7c7c7" stroke="none" stroke-width="0" fill-opacity="0.6"/>
<polyline points="32.4,597.92 139.2,581.34 245.6,599.58" fill="none" stroke="#bcbd22" stroke-width="0.7" stroke-opacity="0.6"/>
<circle cx="32.4" cy="597.92" r="1" fill="#bcbd22" stroke="none" stroke-width="0" fill-opacity="0.6"/>
<circle cx="139.2" cy="581.34" r="1" fill="#bcbd22" stroke="none" stroke-width="0" fill-opacity="0.6"/>
<circle cx="245.6" cy="599.58" r="1" fill="#bcbd22" stroke="none" stroke-width="0" fill-opacity="0.6"/>
<polyline points="32.4,607.87 139.2,612.43 245.6,648.07" fill="none" stroke="#dbdb8d" stroke-width="0.7" stroke-opacity="0.6"/>
<circle cx="32.4" cy="607.87" r="1" fill="#dbdb8d" stroke="none" stroke-width="0" fill-opacity="0.6"/>
<circle cx="139.2" cy="612.43" r="1" fill="#dbdb8d" stroke="none" stroke-width="0" fill-opacity="0.6"/>
<circle cx="245.6" cy="648.07" r="1" fill="#dbdb8d" stroke="none" stroke-width="0" fill-opacity="0.6"/>
<polyline points="32.4,625.9 139.2,617.82 245.6,572.43" fill="none" stroke="#17becf" stroke-width="0.7" stroke-opacity="0.6"/>
<circle cx="32.4" cy="625.9" r="1" fill="#17becf" stroke="none" stroke-width="0" fill-opacity="0.6"/>
<circle cx="139.2" cy="617.82" r="1" fill="#17becf" stroke="none" stroke-width="0" fill-opacity="0.6"/>
<circle cx="245.6" cy="572.43" r="1" fill="#17becf" stroke="none" stroke-width="0" fill-opacity="0.6"/>
<polyline points="32.4,594.4 139.2,656.99 245.6,593.36" fill="none" stroke="#9edae5" stroke-width="0.7" stroke-opacity="0.6"/>
<circle cx="32.4" cy="594.4" r="1" fill="#9edae5" stroke="none" stroke-width="0" fill-opacity="0.6"/>
<circle cx="139.2" cy="656.99" r="1" fill="#9edae5" stroke="none" stroke-width="0" fill-opacity="0.6"/>
<circle cx="245.6" cy="593.36" r="1" fill="#9edae5" stroke="none" stroke-width="0" fill-opacity="0.6"/>
<line x1="21" y1="610.35" x2="256.2" y2="610.35" stroke="#7cc47c" stroke-width="0.8" stroke-dasharray="2.2,1.5"/>
<line x1="32.4" y1="580.1" x2="32.4" y2="625.28" stroke="#e53030" stroke-width="1.3" stroke-opacity="0.7"/>
<line x1="29.4" y1="580.1" x2="35.4" y2="580.1" stroke="#e53030" stroke-width="1" stroke-opacity="0.7"/>
<line x1="29.4" y1="625.28" x2="35.4" y2="625.28" stroke="#e53030" stroke-width="1" stroke-opacity="0.7"/>
<line x1="139.2" y1="583" x2="139.2" y2="646" stroke="#e53030" stroke-width="1.3" stroke-opacity="0.7"/>
<line x1="136.2" y1="583" x2="142.2" y2="583" stroke="#e53030" stroke-width="1" stroke-opacity="0.7"/>
<line x1="136.2" y1="646" x2="142.2" y2="646" stroke="#e53030" stroke-width="1" stroke-opacity="0.7"/>
<line x1="245.6" y1="586.11" x2="245.6" y2="642.48" stroke="#e53030" stroke-width="1.3" stroke-opacity="0.7"/>
<line x1="242.6" y1="586.11" x2="248.6" y2="586.11" stroke="#e53030" stroke-width="1" stroke-opacity="0.7"/>
<line x1="242.6" y1="642.48" x2="248.6" y2="642.48" stroke="#e53030" stroke-width="1" stroke-opacity="0.7"/>
<polyline points="32.4,602.69 139.2,614.5 245.6,614.29" fill="none" stroke="#e02a2a" stroke-width="1.8" stroke-opacity="0.92"/>
<rect x="30.3" y="600.59" width="4.2" height="4.2" fill="#d42020" stroke="#a01010" stroke-width="0.5"/>
<rect x="137.1" y="612.4" width="4.2" height="4.2" fill="#d42020" stroke="#a01010" stroke-width="0.5"/>
<rect x="243.5" y="612.19" width="4.2" height="4.2" fill="#d42020" stroke="#a01010" stroke-width="0.5"/>
<rect x="25.7" y="534.6" width="38.1" height="20.1" fill="#ecdfba" stroke="#d8c99c" stroke-width="0.3" rx="0.4"/>
<text x="26.2" y="537.3" font-size="3.4" dominant-baseline="central" font-family="'Liberation Mono', monospace" fill="#222" stroke="#222" stroke-width="0.1" textLength="31.92" lengthAdjust="spacingAndGlyphs">Overall Statistics:</text>
<text x="26.2" y="540.35" font-size="3.4" dominant-baseline="central" font-family="'Liberation Mono', monospace" fill="#222" stroke="#222" stroke-width="0.1" textLength="36.96" lengthAdjust="spacingAndGlyphs">Mean Dice: 93.29±1.34%</text>
<text x="26.2" y="543.4" font-size="3.4" dominant-baseline="central" font-family="'Liberation Mono', monospace" fill="#222" stroke="#222" stroke-width="0.1" textLength="25.2" lengthAdjust="spacingAndGlyphs">T0: 93.57±1.09%</text>
<text x="26.2" y="546.45" font-size="3.4" dominant-baseline="central" font-family="'Liberation Mono', monospace" fill="#222" stroke="#222" stroke-width="0.1" textLength="25.2" lengthAdjust="spacingAndGlyphs">T1: 93.00±1.52%</text>
<text x="26.2" y="549.5" font-size="3.4" dominant-baseline="central" font-family="'Liberation Mono', monospace" fill="#222" stroke="#222" stroke-width="0.1" textLength="25.2" lengthAdjust="spacingAndGlyphs">T2: 93.01±1.36%</text>
<line x1="263.2" y1="570.7" x2="272" y2="570.7" stroke="#1f77b4" stroke-width="1.1" stroke-opacity="0.75"/>
<circle cx="267.6" cy="570.7" r="1.6" fill="#1f77b4" stroke="none" stroke-width="0" fill-opacity="0.75"/>
<text x="274.6" y="570.7" font-size="4.5" text-anchor="start" dominant-baseline="central" fill="#333">P01</text>
<line x1="263.2" y1="576.57" x2="272" y2="576.57" stroke="#aec7e8" stroke-width="1.1" stroke-opacity="0.75"/>
<circle cx="267.6" cy="576.57" r="1.6" fill="#aec7e8" stroke="none" stroke-width="0" fill-opacity="0.75"/>
<text x="274.6" y="576.57" font-size="4.5" text-anchor="start" dominant-baseline="central" fill="#333">P02</text>
<line x1="263.2" y1="582.44" x2="272" y2="582.44" stroke="#ff7f0e" stroke-width="1.1" stroke-opacity="0.75"/>
<circle cx="267.6" cy="582.44" r="1.6" fill="#ff7f0e" stroke="none" stroke-width="0" fill-opacity="0.75"/>
<text x="274.6" y="582.44" font-size="4.5" text-anchor="start" dominant-baseline="central" fill="#333">P03</text>
<line x1="263.2" y1="588.31" x2="272" y2="588.31" stroke="#ffbb78" stroke-width="1.1" stroke-opacity="0.75"/>
<circle cx="267.6" cy="588.31" r="1.6" fill="#ffbb78" stroke="none" stroke-width="0" fill-opacity="0.75"/>
<text x="274.6" y="588.31" font-size="4.5" text-anchor="start" dominant-baseline="central" fill="#333">P04</text>
<line x1="263.2" y1="594.18" x2="272" y2="594.18" stroke="#98df8a" stroke-width="1.1" stroke-opacity="0.75"/>
<circle cx="267.6" cy="594.18" r="1.6" fill="#98df8a" stroke="none" stroke-width="0" fill-opacity="0.75"/>
<text x="274.6" y="594.18" font-size="4.5" text-anchor="start" dominant-baseline="central" fill="#333">P05</text>
<line x1="263.2" y1="600.05" x2="272" y2="600.05" stroke="#d62728" stroke-width="1.1" stroke-opacity="0.75"/>
<circle cx="267.6" cy="600.05" r="1.6" fill="#d62728" stroke="none" stroke-width="0" fill-opacity="0.75"/>
<text x="274.6" y="600.05" font-size="4.5" text-anchor="start" dominant-baseline="central" fill="#333">P06</text>
<line x1="263.2" y1="605.92" x2="272" y2="605.92" stroke="#ff9896" stroke-width="1.1" stroke-opacity="0.75"/>
<circle cx="267.6" cy="605.92" r="1.6" fill="#ff9896" stroke="none" stroke-width="0" fill-opacity="0.75"/>
<text x="274.6" y="605.92" font-size="4.5" text-anchor="start" dominant-baseline="central" fill="#333">P07</text>
<line x1="263.2" y1="611.79" x2="272" y2="611.79" stroke="#9467bd" stroke-width="1.1" stroke-opacity="0.75"/>
<circle cx="267.6" cy="611.79" r="1.6" fill="#9467bd" stroke="none" stroke-width="0" fill-opacity="0.75"/>
<text x="274.6" y="611.79" font-size="4.5" text-anchor="start" dominant-baseline="central" fill="#333">P08</text>
<line x1="263.2" y1="617.66" x2="272" y2="617.66" stroke="#8c564b" stroke-width="1.1" stroke-opacity="0.75"/>
<circle cx="267.6" cy="617.66" r="1.6" fill="#8c564b" stroke="none" stroke-width="0" fill-opacity="0.75"/>
<text x="274.6" y="617.66" font-size="4.5" text-anchor="start" dominant-baseline="central" fill="#333">P09</text>
<line x1="263.2" y1="623.53" x2="272" y2="623.53" stroke="#c49c94" stroke-width="1.1" stroke-opacity="0.75"/>
<circle cx="267.6" cy="623.53" r="1.6" fill="#c49c94" stroke="none" stroke-width="0" fill-opacity="0.75"/>
<text x="274.6" y="623.53" font-size="4.5" text-anchor="start" dominant-baseline="central" fill="#333">P10</text>
<line x1="263.2" y1="629.4" x2="272" y2="629.4" stroke="#e377c2" stroke-width="1.1" stroke-opacity="0.75"/>
<circle cx="267.6" cy="629.4" r="1.6" fill="#e377c2" stroke="none" stroke-width="0" fill-opacity="0.75"/>
<text x="274.6" y="629.4" font-size="4.5" text-anchor="start" dominant-baseline="central" fill="#333">P11</text>
<line x1="263.2" y1="635.27" x2="272" y2="635.27" stroke="#f7b6d2" stroke-width="1.1" stroke-opacity="0.75"/>
<circle cx="267.6" cy="635.27" r="1.6" fill="#f7b6d2" stroke="none" stroke-width="0" fill-opacity="0.75"/>
<text x="274.6" y="635.27" font-size="4.5" text-anchor="start" dominant-baseline="central" fill="#333">P12</text>
<line x1="263.2" y1="641.14" x2="272" y2="641.14" stroke="#c7c7c7" stroke-width="1.1" stroke-opacity="0.75"/>
<circle cx="267.6" cy="641.14" r="1.6" fill="#c7c7c7" stroke="none" stroke-width="0" fill-opacity="0.75"/>
<text x="274.6" y="641.14" font-size="4.5" text-anchor="start" dominant-baseline="central" fill="#333">P13</text>
<line x1="263.2" y1="647.01" x2="272" y2="647.01" stroke="#bcbd22" stroke-width="1.1" stroke-opacity="0.75"/>
<circle cx="267.6" cy="647.01" r="1.6" fill="#bcbd22" stroke="none" stroke-width="0" fill-opacity="0.75"/>
<text x="274.6" y="647.01" font-size="4.5" text-anchor="start" dominant-baseline="central" fill="#333">P14</text>
<line x1="263.2" y1="652.88" x2="272" y2="652.88" stroke="#dbdb8d" stroke-width="1.1" stroke-opacity="0.75"/>
<circle cx="267.6" cy="652.88" r="1.6" fill="#dbdb8d" stroke="none" stroke-width="0" fill-opacity="0.75"/>
<text x="274.6" y="652.88" font-size="4.5" text-anchor="start" dominant-baseline="central" fill="#333">P15</text>
<line x1="263.2" y1="658.75" x2="272" y2="658.75" stroke="#17becf" stroke-width="1.1" stroke-opacity="0.75"/>
<circle cx="267.6" cy="658.75" r="1.6" fill="#17becf" stroke="none" stroke-width="0" fill-opacity="0.75"/>
<text x="274.6" y="658.75" font-size="4.5" text-anchor="start" dominant-baseline="central" fill="#333">P16</text>
<line x1="263.2" y1="664.62" x2="272" y2="664.62" stroke="#9edae5" stroke-width="1.1" stroke-opacity="0.75"/>
<circle cx="267.6" cy="664.62" r="1.6" fill="#9edae5" stroke="none" stroke-width="0" fill-opacity="0.75"/>
<text x="274.6" y="664.62" font-size="4.5" text-anchor="start" dominant-baseline="central" fill="#333">P17</text>
<line x1="263.2" y1="670.49" x2="272" y2="670.49" stroke="#e02a2a" stroke-width="2"/>
<rect x="265" y="667.89" width="5.2" height="5.2" fill="#d42020" stroke="#a01010" stroke-width="0.5"/>
<text x="274.6" y="670.49" font-size="4.5" text-anchor="start" dominant-baseline="central" fill="#333">Mean ± SD</text>
<text x="306.3" y="528" font-size="11.6" font-weight="bold" fill="#000">q)</text>
<text x="507" y="526.6" font-size="7.3" text-anchor="middle" dominant-baseline="central" fill="#222" font-weight="bold" stroke="#222" stroke-width="0.18">Performance Summary Table</text>
<rect x="320" y="531.3" width="362.7" height="17.5" fill="#346296" stroke="none" stroke-width="0"/>
<rect x="320" y="548.8" width="362.7" height="26.3" fill="#ffffff" stroke="none" stroke-width="0"/>
<rect x="320" y="575.1" width="362.7" height="26.3" fill="#e5e8ec" stroke="none" stroke-width="0"/>
<rect x="320" y="601.4" width="362.7" height="26.3" fill="#ffffff" stroke="none" stroke-width="0"/>
<rect x="320" y="627.7" width="362.7" height="26.3" fill="#e5e8ec" stroke="none" stroke-width="0"/>
<rect x="320" y="654" width="362.7" height="26.3" fill="#ffffff" stroke="none" stroke-width="0"/>
<rect x="320" y="680.3" width="362.7" height="26.3" fill="#e5e8ec" stroke="none" stroke-width="0"/>
<line x1="320" y1="548.8" x2="682.7" y2="548.8" stroke="#5c5c5c" stroke-width="0.8"/>
<line x1="320" y1="575.1" x2="682.7" y2="575.1" stroke="#5c5c5c" stroke-width="0.8"/>
<line x1="320" y1="601.4" x2="682.7" y2="601.4" stroke="#5c5c5c" stroke-width="0.8"/>
<line x1="320" y1="627.7" x2="682.7" y2="627.7" stroke="#5c5c5c" stroke-width="0.8"/>
<line x1="320" y1="654" x2="682.7" y2="654" stroke="#5c5c5c" stroke-width="0.8"/>
<line x1="320" y1="680.3" x2="682.7" y2="680.3" stroke="#5c5c5c" stroke-width="0.8"/>
<line x1="320" y1="706.6" x2="682.7" y2="706.6" stroke="#5c5c5c" stroke-width="0.8"/>
<line x1="320" y1="548.8" x2="320" y2="706.6" stroke="#5a5a5a" stroke-width="0.7"/>
<line x1="391.4" y1="548.8" x2="391.4" y2="706.6" stroke="#5a5a5a" stroke-width="0.7"/>
<line x1="449.5" y1="548.8" x2="449.5" y2="706.6" stroke="#5a5a5a" stroke-width="0.7"/>
<line x1="507.5" y1="548.8" x2="507.5" y2="706.6" stroke="#5a5a5a" stroke-width="0.7"/>
<line x1="566.2" y1="548.8" x2="566.2" y2="706.6" stroke="#5a5a5a" stroke-width="0.7"/>
<line x1="624.6" y1="548.8" x2="624.6" y2="706.6" stroke="#5a5a5a" stroke-width="0.7"/>
<line x1="682.7" y1="548.8" x2="682.7" y2="706.6" stroke="#5a5a5a" stroke-width="0.7"/>
<line x1="391.4" y1="531.3" x2="391.4" y2="548.8" stroke="#28466e" stroke-width="0.7"/>
<line x1="449.5" y1="531.3" x2="449.5" y2="548.8" stroke="#28466e" stroke-width="0.7"/>
<line x1="507.5" y1="531.3" x2="507.5" y2="548.8" stroke="#28466e" stroke-width="0.7"/>
<line x1="566.2" y1="531.3" x2="566.2" y2="548.8" stroke="#28466e" stroke-width="0.7"/>
<line x1="624.6" y1="531.3" x2="624.6" y2="548.8" stroke="#28466e" stroke-width="0.7"/>
<text x="355.7" y="540.2" font-size="6.6" text-anchor="middle" dominant-baseline="central" fill="#fff" font-weight="bold">Metric</text>
<text x="420.45" y="540.2" font-size="6.6" text-anchor="middle" dominant-baseline="central" fill="#fff" font-weight="bold">Overall</text>
<text x="478.5" y="540.2" font-size="6.6" text-anchor="middle" dominant-baseline="central" fill="#fff" font-weight="bold">T0</text>
<text x="536.85" y="540.2" font-size="6.6" text-anchor="middle" dominant-baseline="central" fill="#fff" font-weight="bold">T1</text>
<text x="595.4" y="540.2" font-size="6.6" text-anchor="middle" dominant-baseline="central" fill="#fff" font-weight="bold">T2</text>
<text x="653.65" y="540.2" font-size="6.6" text-anchor="middle" dominant-baseline="central" fill="#fff" font-weight="bold"><tspan font-style="italic">p</tspan>-value</text>
<text x="355.7" y="562.35" font-size="6.4" text-anchor="middle" dominant-baseline="central" fill="#111" font-weight="bold" stroke="#111" stroke-width="0.18">Dice (%)</text>
<text x="420.45" y="562.35" font-size="6.8" text-anchor="middle" dominant-baseline="central" fill="#111">93.2±1.34</text>
<text x="478.5" y="562.35" font-size="6.8" text-anchor="middle" dominant-baseline="central" fill="#111">93.6±1.09</text>
<text x="536.85" y="562.35" font-size="6.8" text-anchor="middle" dominant-baseline="central" fill="#111">93.0±1.52</text>
<text x="595.4" y="562.35" font-size="6.8" text-anchor="middle" dominant-baseline="central" fill="#111">93.0±1.36</text>
<text x="653.65" y="562.35" font-size="6.8" text-anchor="middle" dominant-baseline="central" fill="#111">0.295</text>
<text x="355.7" y="588.65" font-size="6.4" text-anchor="middle" dominant-baseline="central" fill="#111" font-weight="bold" stroke="#111" stroke-width="0.18">Iou (%)</text>
<text x="420.45" y="588.65" font-size="6.8" text-anchor="middle" dominant-baseline="central" fill="#111">92.1±1.70</text>
<text x="478.5" y="588.65" font-size="6.8" text-anchor="middle" dominant-baseline="central" fill="#111">91.9±1.06</text>
<text x="536.85" y="588.65" font-size="6.8" text-anchor="middle" dominant-baseline="central" fill="#111">92.3±1.64</text>
<text x="595.4" y="588.65" font-size="6.8" text-anchor="middle" dominant-baseline="central" fill="#111">91.9±1.41</text>
<text x="653.65" y="588.65" font-size="6.8" text-anchor="middle" dominant-baseline="central" fill="#111">0.525</text>
<text x="355.7" y="614.95" font-size="6.4" text-anchor="middle" dominant-baseline="central" fill="#111" font-weight="bold" stroke="#111" stroke-width="0.18">Precision (%)</text>
<text x="420.45" y="614.95" font-size="6.8" text-anchor="middle" dominant-baseline="central" fill="#111">93.2±1.41</text>
<text x="478.5" y="614.95" font-size="6.8" text-anchor="middle" dominant-baseline="central" fill="#111">93.1±1.08</text>
<text x="536.85" y="614.95" font-size="6.8" text-anchor="middle" dominant-baseline="central" fill="#111">93.1±1.45</text>
<text x="595.4" y="614.95" font-size="6.8" text-anchor="middle" dominant-baseline="central" fill="#111">93.4±1.59</text>
<text x="653.65" y="614.95" font-size="6.8" text-anchor="middle" dominant-baseline="central" fill="#111">0.798</text>
<text x="355.7" y="641.25" font-size="6.4" text-anchor="middle" dominant-baseline="central" fill="#111" font-weight="bold" stroke="#111" stroke-width="0.18">Sensitivity (%)</text>
<text x="420.45" y="641.25" font-size="6.8" text-anchor="middle" dominant-baseline="central" fill="#111">92.1±1.61</text>
<text x="478.5" y="641.25" font-size="6.8" text-anchor="middle" dominant-baseline="central" fill="#111">92.5±1.33</text>
<text x="536.85" y="641.25" font-size="6.8" text-anchor="middle" dominant-baseline="central" fill="#111">91.3±1.48</text>
<text x="595.4" y="641.25" font-size="6.8" text-anchor="middle" dominant-baseline="central" fill="#111">92.3±1.11</text>
<text x="653.65" y="641.25" font-size="6.8" text-anchor="middle" dominant-baseline="central" fill="#111">0.155</text>
<text x="355.7" y="667.55" font-size="6.4" text-anchor="middle" dominant-baseline="central" fill="#111" font-weight="bold" stroke="#111" stroke-width="0.18">HD95 (mm)</text>
<text x="420.45" y="667.55" font-size="6.8" text-anchor="middle" dominant-baseline="central" fill="#111">1.6±1.04</text>
<text x="478.5" y="667.55" font-size="6.8" text-anchor="middle" dominant-baseline="central" fill="#111">1.8±0.80</text>
<text x="536.85" y="667.55" font-size="6.8" text-anchor="middle" dominant-baseline="central" fill="#111">1.5±0.78</text>
<text x="595.4" y="667.55" font-size="6.8" text-anchor="middle" dominant-baseline="central" fill="#111">1.6±1.40</text>
<text x="653.65" y="667.55" font-size="6.8" text-anchor="middle" dominant-baseline="central" fill="#111">0.725</text>
<text x="355.7" y="693.85" font-size="6.4" text-anchor="middle" dominant-baseline="central" fill="#111" font-weight="bold" stroke="#111" stroke-width="0.18">ASD (mm)</text>
<text x="420.45" y="693.85" font-size="6.8" text-anchor="middle" dominant-baseline="central" fill="#111">0.5±0.37</text>
<text x="478.5" y="693.85" font-size="6.8" text-anchor="middle" dominant-baseline="central" fill="#111">0.5±0.33</text>
<text x="536.85" y="693.85" font-size="6.8" text-anchor="middle" dominant-baseline="central" fill="#111">0.4±0.2</text>
<text x="595.4" y="693.85" font-size="6.8" text-anchor="middle" dominant-baseline="central" fill="#111">0.6±0.48</text>
<text x="653.65" y="693.85" font-size="6.8" text-anchor="middle" dominant-baseline="central" fill="#111">0.132</text>
</svg>
</body></html>
